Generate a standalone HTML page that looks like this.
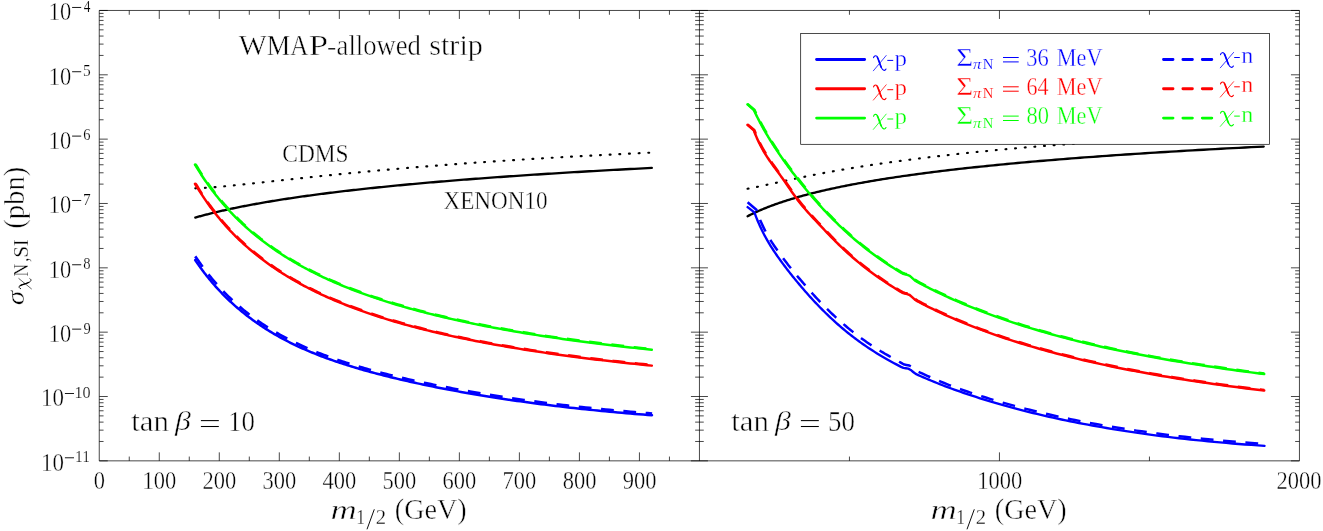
<!DOCTYPE html>
<html><head><meta charset="utf-8"><title>chart</title>
<style>html,body{margin:0;padding:0;background:#fff}body{width:1323px;height:531px;overflow:hidden;font-family:"Liberation Serif",serif}</style></head>
<body>
<svg width="1323" height="531" viewBox="0 0 1323 531" style="display:block;will-change:transform;font-family:'Liberation Serif',serif">
<rect width="1323" height="531" fill="#fff"/>
<path d="M195.30,188.32 L196.07,188.29 L196.84,188.26 L197.63,188.22 L198.41,188.19 L199.21,188.15 L200.01,188.11 L200.82,188.07 L201.63,188.03 L202.45,187.98 L203.28,187.93 L204.11,187.88 L204.95,187.83 L205.80,187.77 L206.65,187.72 L207.51,187.66 L208.38,187.60 L209.25,187.54 L210.14,187.48 L211.02,187.41 L211.92,187.34 L212.82,187.27 L213.73,187.20 L214.65,187.13 L215.58,187.06 L216.51,186.98 L217.45,186.90 L218.40,186.82 L219.35,186.74 L220.31,186.65 L221.28,186.57 L222.26,186.48 L223.25,186.39 L224.24,186.30 L225.24,186.21 L226.25,186.12 L227.27,186.02 L228.30,185.92 L229.33,185.82 L230.37,185.72 L231.42,185.62 L232.48,185.52 L233.55,185.41 L234.63,185.30 L235.71,185.20 L236.81,185.09 L237.91,184.97 L239.02,184.86 L240.14,184.74 L241.27,184.63 L242.41,184.51 L243.56,184.39 L244.72,184.27 L245.88,184.15 L247.06,184.02 L248.24,183.90 L249.44,183.77 L250.64,183.64 L251.86,183.51 L253.08,183.38 L254.31,183.25 L255.56,183.11 L256.81,182.98 L258.07,182.84 L259.35,182.70 L260.63,182.57 L261.92,182.42 L263.23,182.28 L264.54,182.14 L265.87,182.00 L267.21,181.85 L268.55,181.70 L269.91,181.55 L271.28,181.40 L272.66,181.25 L274.05,181.10 L275.45,180.95 L276.86,180.79 L278.29,180.64 L279.72,180.48 L281.17,180.32 L282.63,180.16 L284.10,180.00 L285.58,179.84 L287.08,179.68 L288.58,179.52 L290.10,179.35 L291.63,179.19 L293.18,179.02 L294.73,178.85 L296.30,178.68 L297.88,178.51 L299.47,178.34 L301.08,178.17 L302.70,178.00 L304.33,177.82 L305.98,177.65 L307.63,177.47 L309.31,177.30 L310.99,177.12 L312.69,176.94 L314.40,176.76 L316.13,176.58 L317.87,176.40 L319.62,176.22 L321.39,176.03 L323.17,175.85 L324.97,175.66 L326.78,175.48 L328.60,175.29 L330.44,175.11 L332.30,174.92 L334.17,174.73 L336.05,174.54 L337.95,174.35 L339.87,174.16 L341.80,173.97 L343.74,173.78 L345.71,173.58 L347.68,173.39 L349.68,173.19 L351.69,173.00 L353.71,172.80 L355.75,172.61 L357.81,172.41 L359.89,172.21 L361.98,172.01 L364.09,171.82 L366.21,171.62 L368.35,171.42 L370.51,171.22 L372.69,171.01 L374.88,170.81 L377.09,170.61 L379.32,170.41 L381.57,170.21 L383.84,170.00 L386.12,169.80 L388.42,169.59 L390.74,169.39 L393.08,169.18 L395.44,168.98 L397.82,168.77 L400.21,168.56 L402.63,168.36 L405.06,168.15 L407.51,167.94 L409.99,167.73 L412.48,167.53 L415.00,167.32 L417.53,167.11 L420.08,166.90 L422.66,166.69 L425.25,166.48 L427.87,166.27 L430.51,166.06 L433.17,165.85 L435.85,165.64 L438.55,165.42 L441.27,165.21 L444.01,165.00 L446.78,164.79 L449.57,164.58 L452.38,164.37 L455.22,164.15 L458.07,163.94 L460.95,163.73 L463.86,163.52 L466.78,163.30 L469.73,163.09 L472.71,162.88 L475.70,162.66 L478.72,162.45 L481.77,162.24 L484.84,162.03 L487.93,161.81 L491.05,161.60 L494.20,161.39 L497.37,161.17 L500.56,160.96 L503.79,160.75 L507.03,160.53 L510.31,160.32 L513.60,160.11 L516.93,159.90 L520.28,159.68 L523.66,159.47 L527.07,159.26 L530.50,159.05 L533.96,158.83 L537.45,158.62 L540.97,158.41 L544.52,158.20 L548.09,157.99 L551.69,157.78 L555.33,157.56 L558.99,157.35 L562.68,157.14 L566.40,156.93 L570.15,156.72 L573.93,156.51 L577.74,156.30 L581.58,156.10 L585.45,155.89 L589.35,155.68 L593.29,155.47 L597.25,155.26 L601.25,155.05 L605.28,154.85 L609.34,154.64 L613.44,154.44 L617.56,154.23 L621.72,154.02 L625.92,153.82 L630.15,153.61 L634.41,153.41 L638.70,153.21 L643.03,153.00 L647.40,152.80 L651.80,152.60" fill="none" stroke="#000" stroke-width="2.15" stroke-linecap="round" stroke-linejoin="round" stroke-dasharray="0.9 8.77"/>
<path d="M195.30,217.56 L196.07,217.35 L196.84,217.13 L197.63,216.91 L198.41,216.69 L199.21,216.47 L200.01,216.25 L200.82,216.04 L201.63,215.82 L202.45,215.60 L203.28,215.38 L204.11,215.16 L204.95,214.94 L205.80,214.72 L206.65,214.50 L207.51,214.28 L208.38,214.06 L209.25,213.84 L210.14,213.62 L211.02,213.40 L211.92,213.18 L212.82,212.95 L213.73,212.73 L214.65,212.51 L215.58,212.29 L216.51,212.07 L217.45,211.85 L218.40,211.62 L219.35,211.40 L220.31,211.18 L221.28,210.96 L222.26,210.73 L223.25,210.51 L224.24,210.29 L225.24,210.06 L226.25,209.84 L227.27,209.62 L228.30,209.39 L229.33,209.17 L230.37,208.95 L231.42,208.72 L232.48,208.50 L233.55,208.27 L234.63,208.05 L235.71,207.82 L236.81,207.60 L237.91,207.38 L239.02,207.15 L240.14,206.93 L241.27,206.70 L242.41,206.47 L243.56,206.25 L244.72,206.02 L245.88,205.80 L247.06,205.57 L248.24,205.35 L249.44,205.12 L250.64,204.89 L251.86,204.67 L253.08,204.44 L254.31,204.22 L255.56,203.99 L256.81,203.76 L258.07,203.54 L259.35,203.31 L260.63,203.08 L261.92,202.85 L263.23,202.63 L264.54,202.40 L265.87,202.17 L267.21,201.95 L268.55,201.72 L269.91,201.49 L271.28,201.26 L272.66,201.03 L274.05,200.81 L275.45,200.58 L276.86,200.35 L278.29,200.12 L279.72,199.90 L281.17,199.67 L282.63,199.44 L284.10,199.21 L285.58,198.98 L287.08,198.75 L288.58,198.52 L290.10,198.30 L291.63,198.07 L293.18,197.84 L294.73,197.61 L296.30,197.38 L297.88,197.15 L299.47,196.92 L301.08,196.69 L302.70,196.46 L304.33,196.24 L305.98,196.01 L307.63,195.78 L309.31,195.55 L310.99,195.32 L312.69,195.09 L314.40,194.86 L316.13,194.63 L317.87,194.40 L319.62,194.17 L321.39,193.94 L323.17,193.71 L324.97,193.48 L326.78,193.25 L328.60,193.02 L330.44,192.79 L332.30,192.56 L334.17,192.33 L336.05,192.10 L337.95,191.87 L339.87,191.64 L341.80,191.41 L343.74,191.18 L345.71,190.95 L347.68,190.72 L349.68,190.49 L351.69,190.26 L353.71,190.03 L355.75,189.80 L357.81,189.57 L359.89,189.35 L361.98,189.12 L364.09,188.89 L366.21,188.66 L368.35,188.43 L370.51,188.20 L372.69,187.97 L374.88,187.74 L377.09,187.51 L379.32,187.28 L381.57,187.05 L383.84,186.82 L386.12,186.59 L388.42,186.36 L390.74,186.13 L393.08,185.90 L395.44,185.67 L397.82,185.44 L400.21,185.21 L402.63,184.98 L405.06,184.75 L407.51,184.52 L409.99,184.29 L412.48,184.06 L415.00,183.83 L417.53,183.60 L420.08,183.37 L422.66,183.14 L425.25,182.91 L427.87,182.68 L430.51,182.45 L433.17,182.22 L435.85,181.99 L438.55,181.76 L441.27,181.53 L444.01,181.30 L446.78,181.07 L449.57,180.85 L452.38,180.62 L455.22,180.39 L458.07,180.16 L460.95,179.93 L463.86,179.70 L466.78,179.47 L469.73,179.24 L472.71,179.01 L475.70,178.79 L478.72,178.56 L481.77,178.33 L484.84,178.10 L487.93,177.87 L491.05,177.64 L494.20,177.42 L497.37,177.19 L500.56,176.96 L503.79,176.73 L507.03,176.50 L510.31,176.28 L513.60,176.05 L516.93,175.82 L520.28,175.59 L523.66,175.36 L527.07,175.14 L530.50,174.91 L533.96,174.68 L537.45,174.46 L540.97,174.23 L544.52,174.00 L548.09,173.78 L551.69,173.55 L555.33,173.32 L558.99,173.10 L562.68,172.87 L566.40,172.64 L570.15,172.42 L573.93,172.19 L577.74,171.96 L581.58,171.74 L585.45,171.51 L589.35,171.29 L593.29,171.06 L597.25,170.84 L601.25,170.61 L605.28,170.39 L609.34,170.16 L613.44,169.94 L617.56,169.71 L621.72,169.49 L625.92,169.26 L630.15,169.04 L634.41,168.81 L638.70,168.59 L643.03,168.36 L647.40,168.14 L651.80,167.92" fill="none" stroke="#000" stroke-width="2.35" stroke-linecap="round" stroke-linejoin="round" />
<path d="M747.60,188.71 L748.14,188.62 L748.69,188.52 L749.25,188.42 L749.81,188.32 L750.38,188.22 L750.96,188.11 L751.54,188.00 L752.13,187.89 L752.72,187.78 L753.32,187.66 L753.93,187.54 L754.55,187.42 L755.17,187.29 L755.80,187.17 L756.44,187.04 L757.08,186.91 L757.73,186.77 L758.39,186.64 L759.05,186.50 L759.73,186.36 L760.41,186.21 L761.10,186.07 L761.79,185.92 L762.50,185.77 L763.21,185.62 L763.93,185.46 L764.66,185.31 L765.40,185.15 L766.14,184.98 L766.89,184.82 L767.66,184.65 L768.43,184.49 L769.21,184.32 L769.99,184.14 L770.79,183.97 L771.60,183.79 L772.41,183.61 L773.24,183.43 L774.07,183.25 L774.91,183.06 L775.77,182.88 L776.63,182.69 L777.50,182.50 L778.38,182.30 L779.27,182.11 L780.18,181.91 L781.09,181.71 L782.01,181.51 L782.94,181.31 L783.89,181.10 L784.84,180.90 L785.81,180.69 L786.78,180.48 L787.77,180.27 L788.77,180.05 L789.78,179.84 L790.80,179.62 L791.83,179.40 L792.87,179.18 L793.93,178.95 L795.00,178.73 L796.08,178.50 L797.17,178.28 L798.27,178.05 L799.39,177.82 L800.52,177.58 L801.66,177.35 L802.81,177.11 L803.98,176.87 L805.16,176.63 L806.36,176.39 L807.57,176.15 L808.79,175.91 L810.02,175.66 L811.27,175.42 L812.54,175.17 L813.82,174.92 L815.11,174.67 L816.41,174.41 L817.74,174.16 L819.07,173.90 L820.43,173.65 L821.79,173.39 L823.18,173.13 L824.57,172.87 L825.99,172.61 L827.42,172.34 L828.86,172.08 L830.33,171.81 L831.81,171.54 L833.30,171.28 L834.81,171.01 L836.34,170.73 L837.89,170.46 L839.46,170.19 L841.04,169.91 L842.64,169.64 L844.26,169.36 L845.89,169.08 L847.55,168.81 L849.22,168.53 L850.92,168.24 L852.63,167.96 L854.36,167.68 L856.11,167.39 L857.88,167.11 L859.67,166.82 L861.48,166.54 L863.31,166.25 L865.16,165.96 L867.04,165.67 L868.93,165.38 L870.85,165.09 L872.78,164.79 L874.74,164.50 L876.73,164.21 L878.73,163.91 L880.76,163.62 L882.80,163.32 L884.88,163.02 L886.97,162.72 L889.09,162.42 L891.24,162.12 L893.40,161.82 L895.60,161.52 L897.81,161.22 L900.06,160.92 L902.32,160.62 L904.62,160.31 L906.94,160.01 L909.28,159.70 L911.65,159.40 L914.05,159.09 L916.48,158.79 L918.93,158.48 L921.41,158.17 L923.92,157.86 L926.46,157.55 L929.02,157.24 L931.62,156.94 L934.24,156.63 L936.90,156.31 L939.58,156.00 L942.29,155.69 L945.04,155.38 L947.82,155.07 L950.62,154.76 L953.46,154.44 L956.33,154.13 L959.24,153.82 L962.17,153.51 L965.14,153.19 L968.15,152.88 L971.18,152.56 L974.26,152.25 L977.36,151.93 L980.50,151.62 L983.68,151.30 L986.89,150.99 L990.14,150.67 L993.43,150.36 L996.75,150.04 L1000.11,149.73 L1003.51,149.41 L1006.95,149.10 L1010.42,148.78 L1013.94,148.47 L1017.50,148.15 L1021.09,147.83 L1024.73,147.52 L1028.40,147.20 L1032.12,146.89 L1035.88,146.57 L1039.69,146.26 L1043.53,145.94 L1047.42,145.63 L1051.36,145.31 L1055.33,145.00 L1059.36,144.68 L1063.43,144.37 L1067.54,144.05 L1071.70,143.74 L1075.91,143.43 L1080.16,143.11 L1084.47,142.80 L1088.82,142.49 L1093.22,142.17 L1097.67,141.86 L1102.18,141.55 L1106.73,141.24 L1111.33,140.93 L1115.99,140.61 L1120.70,140.30 L1125.46,139.99 L1130.28,139.68 L1135.15,139.38 L1140.07,139.07 L1145.05,138.76 L1150.09,138.45 L1155.18,138.14 L1160.34,137.84 L1165.55,137.53 L1170.82,137.22 L1176.14,136.92 L1181.53,136.61 L1186.98,136.31 L1192.49,136.01 L1198.07,135.70 L1203.70,135.40 L1209.41,135.10 L1215.17,134.80 L1221.00,134.50 L1226.90,134.20 L1232.86,133.90 L1238.89,133.60 L1244.99,133.31 L1251.16,133.01 L1257.39,132.72 L1263.70,132.42" fill="none" stroke="#000" stroke-width="2.15" stroke-linecap="round" stroke-linejoin="round" stroke-dasharray="0.9 8.77"/>
<path d="M747.60,216.21 L748.14,215.92 L748.69,215.64 L749.25,215.36 L749.81,215.08 L750.38,214.79 L750.96,214.51 L751.54,214.22 L752.13,213.94 L752.72,213.65 L753.32,213.36 L753.93,213.08 L754.55,212.79 L755.17,212.50 L755.80,212.21 L756.44,211.92 L757.08,211.63 L757.73,211.34 L758.39,211.04 L759.05,210.75 L759.73,210.46 L760.41,210.16 L761.10,209.87 L761.79,209.57 L762.50,209.28 L763.21,208.98 L763.93,208.68 L764.66,208.38 L765.40,208.09 L766.14,207.79 L766.89,207.49 L767.66,207.19 L768.43,206.89 L769.21,206.59 L769.99,206.28 L770.79,205.98 L771.60,205.68 L772.41,205.38 L773.24,205.07 L774.07,204.77 L774.91,204.46 L775.77,204.16 L776.63,203.85 L777.50,203.55 L778.38,203.24 L779.27,202.93 L780.18,202.62 L781.09,202.31 L782.01,202.01 L782.94,201.70 L783.89,201.39 L784.84,201.08 L785.81,200.77 L786.78,200.45 L787.77,200.14 L788.77,199.83 L789.78,199.52 L790.80,199.21 L791.83,198.89 L792.87,198.58 L793.93,198.26 L795.00,197.95 L796.08,197.64 L797.17,197.32 L798.27,197.00 L799.39,196.69 L800.52,196.37 L801.66,196.05 L802.81,195.74 L803.98,195.42 L805.16,195.10 L806.36,194.78 L807.57,194.46 L808.79,194.15 L810.02,193.83 L811.27,193.51 L812.54,193.19 L813.82,192.87 L815.11,192.55 L816.41,192.22 L817.74,191.90 L819.07,191.58 L820.43,191.26 L821.79,190.94 L823.18,190.62 L824.57,190.29 L825.99,189.97 L827.42,189.65 L828.86,189.32 L830.33,189.00 L831.81,188.67 L833.30,188.35 L834.81,188.03 L836.34,187.70 L837.89,187.38 L839.46,187.05 L841.04,186.72 L842.64,186.40 L844.26,186.07 L845.89,185.75 L847.55,185.42 L849.22,185.09 L850.92,184.77 L852.63,184.44 L854.36,184.11 L856.11,183.78 L857.88,183.46 L859.67,183.13 L861.48,182.80 L863.31,182.47 L865.16,182.14 L867.04,181.82 L868.93,181.49 L870.85,181.16 L872.78,180.83 L874.74,180.50 L876.73,180.17 L878.73,179.84 L880.76,179.51 L882.80,179.18 L884.88,178.85 L886.97,178.52 L889.09,178.20 L891.24,177.87 L893.40,177.54 L895.60,177.21 L897.81,176.88 L900.06,176.55 L902.32,176.21 L904.62,175.88 L906.94,175.55 L909.28,175.22 L911.65,174.89 L914.05,174.56 L916.48,174.23 L918.93,173.90 L921.41,173.57 L923.92,173.24 L926.46,172.91 L929.02,172.58 L931.62,172.25 L934.24,171.92 L936.90,171.59 L939.58,171.26 L942.29,170.93 L945.04,170.60 L947.82,170.27 L950.62,169.94 L953.46,169.60 L956.33,169.27 L959.24,168.94 L962.17,168.61 L965.14,168.28 L968.15,167.95 L971.18,167.62 L974.26,167.29 L977.36,166.96 L980.50,166.63 L983.68,166.30 L986.89,165.97 L990.14,165.64 L993.43,165.31 L996.75,164.99 L1000.11,164.66 L1003.51,164.33 L1006.95,164.00 L1010.42,163.67 L1013.94,163.34 L1017.50,163.01 L1021.09,162.68 L1024.73,162.36 L1028.40,162.03 L1032.12,161.70 L1035.88,161.37 L1039.69,161.04 L1043.53,160.72 L1047.42,160.39 L1051.36,160.06 L1055.33,159.73 L1059.36,159.41 L1063.43,159.08 L1067.54,158.76 L1071.70,158.43 L1075.91,158.10 L1080.16,157.78 L1084.47,157.45 L1088.82,157.13 L1093.22,156.80 L1097.67,156.48 L1102.18,156.15 L1106.73,155.83 L1111.33,155.50 L1115.99,155.18 L1120.70,154.86 L1125.46,154.53 L1130.28,154.21 L1135.15,153.89 L1140.07,153.57 L1145.05,153.24 L1150.09,152.92 L1155.18,152.60 L1160.34,152.28 L1165.55,151.96 L1170.82,151.64 L1176.14,151.32 L1181.53,151.00 L1186.98,150.68 L1192.49,150.36 L1198.07,150.04 L1203.70,149.72 L1209.41,149.41 L1215.17,149.09 L1221.00,148.77 L1226.90,148.45 L1232.86,148.14 L1238.89,147.82 L1244.99,147.50 L1251.16,147.19 L1257.39,146.87 L1263.70,146.56" fill="none" stroke="#000" stroke-width="2.35" stroke-linecap="round" stroke-linejoin="round" />
<path d="M195.20,260.08 L195.97,261.22 L196.74,262.35 L197.53,263.49 L198.31,264.62 L199.11,265.74 L199.91,266.86 L200.72,267.98 L201.53,269.09 L202.35,270.20 L203.18,271.30 L204.01,272.40 L204.85,273.50 L205.70,274.59 L206.55,275.67 L207.41,276.76 L208.28,277.84 L209.15,278.91 L210.03,279.98 L210.92,281.05 L211.82,282.11 L212.72,283.17 L213.63,284.22 L214.55,285.27 L215.47,286.31 L216.40,287.36 L217.34,288.39 L218.29,289.42 L219.25,290.45 L220.21,291.48 L221.18,292.49 L222.16,293.51 L223.14,294.52 L224.14,295.53 L225.14,296.53 L226.15,297.53 L227.17,298.52 L228.19,299.51 L229.23,300.49 L230.27,301.47 L231.32,302.45 L232.38,303.42 L233.45,304.39 L234.53,305.35 L235.61,306.31 L236.70,307.27 L237.81,308.22 L238.92,309.16 L240.04,310.10 L241.17,311.04 L242.31,311.97 L243.46,312.90 L244.61,313.82 L245.78,314.74 L246.95,315.65 L248.14,316.56 L249.33,317.47 L250.54,318.37 L251.75,319.27 L252.98,320.16 L254.21,321.05 L255.45,321.93 L256.71,322.81 L257.97,323.68 L259.25,324.55 L260.53,325.41 L261.82,326.27 L263.13,327.13 L264.44,327.98 L265.77,328.83 L267.11,329.67 L268.45,330.51 L269.81,331.34 L271.18,332.17 L272.56,332.99 L273.95,333.81 L275.35,334.63 L276.77,335.44 L278.19,336.24 L279.63,337.04 L281.08,337.84 L282.53,338.63 L284.01,339.41 L285.49,340.20 L286.98,340.97 L288.49,341.75 L290.01,342.51 L291.54,343.28 L293.08,344.04 L294.64,344.79 L296.21,345.54 L297.79,346.28 L299.38,347.02 L300.99,347.76 L302.61,348.49 L304.24,349.21 L305.89,349.93 L307.55,350.65 L309.22,351.36 L310.91,352.07 L312.60,352.77 L314.32,353.46 L316.04,354.16 L317.78,354.84 L319.54,355.53 L321.31,356.21 L323.09,356.88 L324.89,357.55 L326.70,358.22 L328.53,358.88 L330.37,359.54 L332.22,360.19 L334.09,360.84 L335.98,361.49 L337.88,362.13 L339.79,362.77 L341.73,363.40 L343.67,364.04 L345.64,364.66 L347.61,365.29 L349.61,365.91 L351.62,366.53 L353.65,367.15 L355.69,367.76 L357.75,368.37 L359.82,368.97 L361.92,369.58 L364.02,370.18 L366.15,370.78 L368.29,371.37 L370.45,371.97 L372.63,372.56 L374.83,373.15 L377.04,373.73 L379.27,374.32 L381.52,374.90 L383.79,375.48 L386.07,376.05 L388.38,376.63 L390.70,377.20 L393.04,377.77 L395.40,378.33 L397.78,378.90 L400.17,379.46 L402.59,380.02 L405.03,380.58 L407.48,381.14 L409.96,381.70 L412.45,382.25 L414.97,382.80 L417.50,383.35 L420.06,383.90 L422.64,384.44 L425.23,384.99 L427.85,385.53 L430.49,386.07 L433.15,386.61 L435.83,387.15 L438.54,387.68 L441.26,388.22 L444.01,388.75 L446.78,389.28 L449.57,389.81 L452.38,390.34 L455.22,390.86 L458.08,391.39 L460.96,391.91 L463.87,392.43 L466.80,392.95 L469.75,393.46 L472.72,393.98 L475.72,394.49 L478.75,395.00 L481.80,395.50 L484.87,396.01 L487.97,396.51 L491.09,397.01 L494.24,397.51 L497.41,398.00 L500.61,398.49 L503.83,398.98 L507.08,399.47 L510.36,399.95 L513.66,400.43 L516.99,400.91 L520.34,401.38 L523.73,401.85 L527.14,402.32 L530.57,402.78 L534.04,403.24 L537.53,403.70 L541.05,404.16 L544.60,404.61 L548.18,405.05 L551.78,405.50 L555.42,405.94 L559.08,406.37 L562.78,406.81 L566.50,407.24 L570.26,407.66 L574.04,408.08 L577.85,408.50 L581.70,408.91 L585.58,409.32 L589.48,409.73 L593.42,410.13 L597.39,410.52 L601.39,410.92 L605.43,411.30 L609.49,411.69 L613.59,412.07 L617.72,412.44 L621.89,412.81 L626.09,413.17 L630.32,413.53 L634.59,413.89 L638.89,414.24 L643.22,414.59 L647.59,414.93 L652.00,415.26" fill="none" stroke="#0000ff" stroke-width="2.5" stroke-linecap="round" stroke-linejoin="round"/>
<path d="M195.20,256.40 L197.79,259.98 L198.57,261.10 L199.34,262.23 L200.13,263.34 L200.92,264.45 L201.72,265.56 L202.52,266.67 L203.33,267.77 L204.14,268.86 L204.97,269.95 L205.80,271.04 L206.63,272.12 L207.47,273.20 L208.32,274.27 L209.18,275.34 L210.04,276.41 L210.91,277.47 L211.79,278.53 L212.67,279.58 L213.56,280.63 L214.46,281.68 L215.36,282.72 L216.27,283.75 L217.19,284.78 L218.12,285.81 L219.05,286.83 L219.99,287.85 L220.94,288.87 L221.90,289.88 L222.86,290.88 L223.83,291.88 L224.81,292.88 L225.80,293.87 L226.80,294.86 L227.79,295.85 L228.80,296.84 L229.81,297.82 L230.83,298.80 L231.86,299.77 L232.90,300.74 L233.95,301.70 L235.00,302.66 L236.07,303.62 L237.14,304.57 L238.22,305.51 L239.31,306.46 L240.41,307.40 L241.52,308.33 L242.63,309.26 L243.76,310.18 L244.89,311.11 L246.04,312.02 L247.19,312.93 L248.35,313.84 L249.53,314.75 L250.71,315.65 L251.90,316.54 L253.10,317.43 L254.31,318.32 L255.53,319.20 L256.76,320.08 L258.00,320.95 L259.25,321.82 L260.51,322.68 L261.78,323.54 L263.06,324.40 L264.35,325.25 L265.65,326.10 L266.97,326.94 L268.29,327.78 L269.62,328.61 L270.97,329.44 L272.32,330.26 L273.69,331.08 L275.07,331.90 L276.46,332.71 L277.86,333.52 L279.27,334.32 L280.69,335.12 L282.13,335.91 L283.57,336.70 L285.03,337.48 L286.50,338.26 L287.98,339.04 L289.48,339.81 L290.98,340.58 L292.50,341.34 L294.03,342.09 L295.57,342.85 L297.13,343.59 L298.70,344.34 L300.28,345.08 L301.87,345.81 L303.48,346.54 L305.10,347.27 L306.73,347.99 L308.38,348.70 L310.04,349.41 L311.72,350.12 L313.40,350.82 L315.10,351.52 L316.82,352.21 L318.55,352.90 L320.29,353.58 L322.05,354.26 L323.82,354.94 L325.61,355.61 L327.41,356.28 L329.22,356.94 L331.05,357.60 L332.90,358.26 L334.76,358.91 L336.64,359.56 L338.53,360.20 L340.43,360.84 L342.35,361.48 L344.29,362.12 L346.25,362.75 L348.22,363.38 L350.20,364.00 L352.20,364.62 L354.22,365.23 L356.26,365.85 L358.31,366.46 L360.38,367.06 L362.46,367.67 L364.57,368.27 L366.69,368.86 L368.82,369.46 L370.98,370.05 L373.15,370.64 L375.34,371.23 L377.54,371.82 L379.77,372.40 L382.01,372.98 L384.27,373.56 L386.55,374.14 L388.85,374.72 L391.17,375.29 L393.50,375.86 L395.85,376.43 L398.23,376.99 L400.62,377.56 L403.03,378.12 L405.46,378.68 L407.91,379.24 L410.38,379.79 L412.87,380.35 L415.38,380.90 L417.91,381.45 L420.46,382.00 L423.04,382.55 L425.63,383.09 L428.24,383.64 L430.88,384.18 L433.53,384.72 L436.21,385.26 L438.91,385.79 L441.63,386.33 L444.37,386.86 L447.14,387.40 L449.92,387.93 L452.73,388.46 L455.57,388.98 L458.42,389.51 L461.30,390.03 L464.20,390.55 L467.12,391.07 L470.07,391.59 L473.04,392.11 L476.04,392.62 L479.06,393.13 L482.10,393.64 L485.17,394.14 L488.27,394.65 L491.38,395.15 L494.53,395.65 L497.70,396.14 L500.89,396.64 L504.11,397.13 L507.36,397.62 L510.63,398.10 L513.93,398.58 L517.25,399.06 L520.60,399.54 L523.98,400.01 L527.39,400.48 L530.82,400.95 L534.28,401.41 L537.77,401.87 L541.29,402.33 L544.83,402.78 L548.40,403.23 L552.01,403.68 L555.64,404.12 L559.30,404.56 L562.99,405.00 L566.71,405.43 L570.46,405.86 L574.24,406.28 L578.05,406.70 L581.89,407.11 L585.76,407.53 L589.67,407.93 L593.60,408.34 L597.57,408.74 L601.57,409.13 L605.60,409.52 L609.66,409.91 L613.75,410.29 L617.88,410.67 L622.04,411.04 L626.24,411.41 L630.47,411.77 L634.73,412.13 L639.03,412.48 L643.36,412.83 L647.73,413.18 L652.13,413.52" fill="none" stroke="#0000ff" stroke-width="2.7" stroke-dasharray="12.8 9.6" stroke-linecap="butt" stroke-linejoin="round"/>
<path d="M195.00,183.75 L195.77,185.04 L196.54,186.32 L197.32,187.60 L198.11,188.88 L198.90,190.15 L199.70,191.41 L200.51,192.68 L201.32,193.93 L202.14,195.18 L202.97,196.43 L203.80,197.67 L204.64,198.91 L205.49,200.14 L206.34,201.36 L207.20,202.59 L208.06,203.80 L208.94,205.02 L209.82,206.22 L210.71,207.43 L211.60,208.63 L212.50,209.82 L213.41,211.01 L214.33,212.19 L215.25,213.37 L216.18,214.55 L217.12,215.72 L218.07,216.89 L219.02,218.05 L219.98,219.20 L220.95,220.36 L221.93,221.50 L222.92,222.65 L223.91,223.78 L224.91,224.92 L225.92,226.05 L226.94,227.17 L227.96,228.29 L228.99,229.41 L230.04,230.52 L231.09,231.62 L232.15,232.73 L233.21,233.82 L234.29,234.92 L235.37,236.01 L236.47,237.09 L237.57,238.17 L238.68,239.24 L239.80,240.31 L240.93,241.38 L242.07,242.44 L243.21,243.50 L244.37,244.55 L245.53,245.60 L246.71,246.64 L247.89,247.68 L249.09,248.72 L250.29,249.75 L251.50,250.78 L252.73,251.80 L253.96,252.82 L255.20,253.83 L256.46,254.84 L257.72,255.84 L258.99,256.85 L260.28,257.84 L261.57,258.83 L262.87,259.82 L264.19,260.81 L265.51,261.78 L266.85,262.76 L268.19,263.73 L269.55,264.70 L270.92,265.66 L272.30,266.62 L273.69,267.57 L275.09,268.52 L276.50,269.47 L277.93,270.41 L279.36,271.34 L280.81,272.28 L282.27,273.21 L283.74,274.13 L285.22,275.05 L286.72,275.97 L288.22,276.88 L289.74,277.79 L291.27,278.69 L292.81,279.59 L294.37,280.49 L295.94,281.38 L297.52,282.27 L299.11,283.15 L300.72,284.03 L302.34,284.91 L303.97,285.78 L305.61,286.65 L307.27,287.51 L308.94,288.37 L310.63,289.23 L312.33,290.08 L314.04,290.92 L315.77,291.77 L317.51,292.61 L319.26,293.44 L321.03,294.28 L322.81,295.10 L324.61,295.93 L326.42,296.75 L328.24,297.56 L330.08,298.38 L331.94,299.19 L333.81,299.99 L335.69,300.79 L337.59,301.59 L339.51,302.38 L341.44,303.17 L343.39,303.96 L345.35,304.74 L347.33,305.52 L349.32,306.29 L351.33,307.06 L353.36,307.83 L355.40,308.59 L357.46,309.35 L359.54,310.10 L361.63,310.85 L363.74,311.60 L365.86,312.35 L368.01,313.09 L370.17,313.82 L372.34,314.56 L374.54,315.28 L376.75,316.01 L378.98,316.73 L381.23,317.45 L383.50,318.16 L385.78,318.88 L388.09,319.58 L390.41,320.29 L392.75,320.99 L395.11,321.68 L397.49,322.38 L399.88,323.06 L402.30,323.75 L404.74,324.43 L407.19,325.11 L409.67,325.79 L412.16,326.46 L414.68,327.13 L417.22,327.79 L419.77,328.45 L422.35,329.11 L424.95,329.76 L427.56,330.41 L430.20,331.06 L432.87,331.70 L435.55,332.34 L438.25,332.98 L440.98,333.61 L443.72,334.24 L446.49,334.87 L449.29,335.49 L452.10,336.11 L454.94,336.73 L457.80,337.34 L460.68,337.95 L463.58,338.55 L466.51,339.15 L469.47,339.75 L472.44,340.35 L475.44,340.94 L478.47,341.53 L481.52,342.12 L484.59,342.70 L487.69,343.28 L490.81,343.85 L493.96,344.43 L497.14,345.00 L500.33,345.56 L503.56,346.13 L506.81,346.68 L510.09,347.24 L513.39,347.79 L516.72,348.34 L520.08,348.89 L523.46,349.43 L526.87,349.97 L530.31,350.51 L533.78,351.05 L537.27,351.58 L540.79,352.10 L544.34,352.63 L547.92,353.15 L551.53,353.67 L555.17,354.18 L558.84,354.70 L562.53,355.20 L566.26,355.71 L570.01,356.21 L573.80,356.71 L577.61,357.21 L581.46,357.70 L585.34,358.19 L589.25,358.68 L593.19,359.16 L597.16,359.65 L601.16,360.12 L605.20,360.60 L609.27,361.07 L613.37,361.54 L617.50,362.01 L621.67,362.47 L625.87,362.93 L630.11,363.39 L634.38,363.84 L638.68,364.30 L643.02,364.74 L647.39,365.19 L651.80,365.63" fill="none" stroke="#ff0000" stroke-width="2.5" stroke-linecap="round" stroke-linejoin="round"/>
<path d="M195.00,183.47 L196.24,184.76 L197.01,186.04 L197.79,187.32 L198.58,188.59 L199.37,189.86 L200.17,191.12 L200.97,192.38 L201.78,193.63 L202.60,194.88 L203.43,196.12 L204.26,197.36 L205.09,198.60 L205.94,199.82 L206.79,201.05 L207.65,202.27 L208.51,203.48 L209.38,204.69 L210.26,205.90 L211.15,207.10 L212.04,208.30 L212.94,209.49 L213.85,210.67 L214.76,211.86 L215.68,213.03 L216.61,214.21 L217.55,215.37 L218.49,216.54 L219.45,217.70 L220.41,218.85 L221.37,220.00 L222.35,221.15 L223.33,222.29 L224.32,223.42 L225.32,224.55 L226.33,225.68 L227.34,226.80 L228.37,227.92 L229.40,229.03 L230.44,230.14 L231.48,231.24 L232.54,232.34 L233.61,233.44 L234.68,234.53 L235.76,235.62 L236.85,236.70 L237.95,237.77 L239.06,238.85 L240.18,239.92 L241.30,240.98 L242.44,242.04 L243.58,243.09 L244.74,244.14 L245.90,245.19 L247.07,246.23 L248.26,247.27 L249.45,248.30 L250.65,249.33 L251.86,250.36 L253.08,251.38 L254.31,252.39 L255.55,253.40 L256.80,254.41 L258.06,255.41 L259.33,256.41 L260.61,257.41 L261.90,258.40 L263.20,259.38 L264.52,260.36 L265.84,261.34 L267.17,262.31 L268.51,263.28 L269.87,264.25 L271.23,265.21 L272.61,266.16 L274.00,267.12 L275.40,268.06 L276.81,269.01 L278.23,269.95 L279.66,270.88 L281.11,271.81 L282.56,272.74 L284.03,273.66 L285.51,274.58 L287.00,275.50 L288.51,276.41 L290.02,277.32 L291.55,278.22 L293.09,279.12 L294.64,280.01 L296.21,280.90 L297.79,281.79 L299.38,282.67 L300.98,283.55 L302.60,284.42 L304.23,285.29 L305.87,286.16 L307.52,287.02 L309.19,287.88 L310.88,288.73 L312.57,289.58 L314.28,290.43 L316.01,291.27 L317.74,292.11 L319.50,292.95 L321.26,293.78 L323.04,294.60 L324.83,295.43 L326.64,296.25 L328.47,297.06 L330.31,297.87 L332.16,298.68 L334.03,299.48 L335.91,300.28 L337.81,301.08 L339.72,301.87 L341.65,302.66 L343.59,303.45 L345.55,304.23 L347.53,305.00 L349.52,305.78 L351.53,306.55 L353.55,307.31 L355.59,308.07 L357.65,308.83 L359.72,309.59 L361.81,310.34 L363.92,311.08 L366.04,311.83 L368.18,312.57 L370.34,313.30 L372.52,314.03 L374.71,314.76 L376.92,315.49 L379.15,316.21 L381.40,316.93 L383.66,317.64 L385.95,318.35 L388.25,319.06 L390.57,319.76 L392.91,320.46 L395.26,321.16 L397.64,321.85 L400.04,322.54 L402.45,323.22 L404.88,323.90 L407.34,324.58 L409.81,325.25 L412.31,325.93 L414.82,326.59 L417.35,327.26 L419.91,327.92 L422.48,328.57 L425.08,329.23 L427.70,329.88 L430.33,330.52 L432.99,331.17 L435.67,331.81 L438.38,332.44 L441.10,333.08 L443.85,333.70 L446.61,334.33 L449.40,334.95 L452.22,335.57 L455.05,336.19 L457.91,336.80 L460.79,337.41 L463.70,338.01 L466.62,338.62 L469.58,339.21 L472.55,339.81 L475.55,340.40 L478.57,340.99 L481.62,341.58 L484.69,342.16 L487.79,342.74 L490.91,343.31 L494.06,343.89 L497.23,344.45 L500.43,345.02 L503.65,345.58 L506.90,346.14 L510.18,346.70 L513.48,347.25 L516.81,347.80 L520.17,348.35 L523.55,348.89 L526.96,349.43 L530.40,349.97 L533.86,350.50 L537.35,351.03 L540.88,351.56 L544.42,352.08 L548.00,352.61 L551.61,353.12 L555.25,353.64 L558.91,354.15 L562.61,354.66 L566.33,355.16 L570.08,355.67 L573.87,356.17 L577.68,356.66 L581.53,357.16 L585.41,357.65 L589.31,358.13 L593.25,358.62 L597.22,359.10 L601.23,359.58 L605.26,360.05 L609.33,360.53 L613.43,361.00 L617.57,361.46 L621.73,361.92 L625.93,362.39 L630.17,362.84 L634.44,363.30 L638.74,363.75 L643.07,364.20 L647.45,364.64 L651.85,365.09" fill="none" stroke="#ff0000" stroke-width="2.7" stroke-dasharray="12.8 9.6" stroke-linecap="butt" stroke-linejoin="round"/>
<path d="M195.00,164.50 L195.77,165.79 L196.54,167.08 L197.32,168.36 L198.11,169.64 L198.90,170.91 L199.70,172.18 L200.51,173.44 L201.32,174.70 L202.14,175.96 L202.97,177.21 L203.80,178.45 L204.64,179.70 L205.49,180.93 L206.34,182.16 L207.20,183.39 L208.06,184.61 L208.94,185.83 L209.82,187.05 L210.71,188.26 L211.60,189.46 L212.50,190.66 L213.41,191.86 L214.33,193.05 L215.25,194.23 L216.18,195.42 L217.12,196.59 L218.07,197.77 L219.02,198.93 L219.98,200.10 L220.95,201.26 L221.93,202.41 L222.92,203.57 L223.91,204.71 L224.91,205.85 L225.92,206.99 L226.94,208.13 L227.96,209.25 L228.99,210.38 L230.04,211.50 L231.09,212.62 L232.15,213.73 L233.21,214.83 L234.29,215.94 L235.37,217.04 L236.47,218.13 L237.57,219.22 L238.68,220.31 L239.80,221.39 L240.93,222.46 L242.07,223.54 L243.21,224.60 L244.37,225.67 L245.53,226.73 L246.71,227.78 L247.89,228.84 L249.09,229.88 L250.29,230.93 L251.50,231.96 L252.73,233.00 L253.96,234.03 L255.20,235.06 L256.46,236.08 L257.72,237.10 L258.99,238.11 L260.28,239.12 L261.57,240.12 L262.87,241.13 L264.19,242.12 L265.51,243.12 L266.85,244.10 L268.19,245.09 L269.55,246.07 L270.92,247.05 L272.30,248.02 L273.69,248.99 L275.09,249.95 L276.50,250.91 L277.93,251.87 L279.36,252.82 L280.81,253.77 L282.27,254.71 L283.74,255.65 L285.22,256.59 L286.72,257.52 L288.22,258.45 L289.74,259.37 L291.27,260.29 L292.81,261.20 L294.37,262.12 L295.94,263.02 L297.52,263.93 L299.11,264.83 L300.72,265.72 L302.34,266.62 L303.97,267.50 L305.61,268.39 L307.27,269.27 L308.94,270.15 L310.63,271.02 L312.33,271.89 L314.04,272.75 L315.77,273.61 L317.51,274.47 L319.26,275.32 L321.03,276.17 L322.81,277.02 L324.61,277.86 L326.42,278.70 L328.24,279.53 L330.08,280.36 L331.94,281.19 L333.81,282.01 L335.69,282.83 L337.59,283.64 L339.51,284.45 L341.44,285.26 L343.39,286.07 L345.35,286.87 L347.33,287.66 L349.32,288.45 L351.33,289.24 L353.36,290.03 L355.40,290.81 L357.46,291.59 L359.54,292.36 L361.63,293.13 L363.74,293.90 L365.86,294.66 L368.01,295.42 L370.17,296.18 L372.34,296.93 L374.54,297.68 L376.75,298.42 L378.98,299.16 L381.23,299.90 L383.50,300.63 L385.78,301.36 L388.09,302.09 L390.41,302.81 L392.75,303.53 L395.11,304.25 L397.49,304.96 L399.88,305.67 L402.30,306.38 L404.74,307.08 L407.19,307.78 L409.67,308.47 L412.16,309.16 L414.68,309.85 L417.22,310.53 L419.77,311.21 L422.35,311.89 L424.95,312.56 L427.56,313.24 L430.20,313.90 L432.87,314.57 L435.55,315.23 L438.25,315.88 L440.98,316.53 L443.72,317.18 L446.49,317.83 L449.29,318.47 L452.10,319.11 L454.94,319.75 L457.80,320.38 L460.68,321.01 L463.58,321.64 L466.51,322.26 L469.47,322.88 L472.44,323.49 L475.44,324.11 L478.47,324.72 L481.52,325.32 L484.59,325.93 L487.69,326.52 L490.81,327.12 L493.96,327.71 L497.14,328.30 L500.33,328.89 L503.56,329.47 L506.81,330.05 L510.09,330.63 L513.39,331.20 L516.72,331.77 L520.08,332.34 L523.46,332.90 L526.87,333.46 L530.31,334.02 L533.78,334.57 L537.27,335.12 L540.79,335.67 L544.34,336.22 L547.92,336.76 L551.53,337.30 L555.17,337.83 L558.84,338.36 L562.53,338.89 L566.26,339.42 L570.01,339.94 L573.80,340.46 L577.61,340.97 L581.46,341.49 L585.34,342.00 L589.25,342.50 L593.19,343.01 L597.16,343.51 L601.16,344.01 L605.20,344.50 L609.27,344.99 L613.37,345.48 L617.50,345.97 L621.67,346.45 L625.87,346.93 L630.11,347.41 L634.38,347.88 L638.68,348.35 L643.02,348.82 L647.39,349.29 L651.80,349.75" fill="none" stroke="#00ff00" stroke-width="2.5" stroke-linecap="round" stroke-linejoin="round"/>
<path d="M195.00,164.22 L196.24,165.51 L197.01,166.79 L197.79,168.07 L198.58,169.35 L199.37,170.62 L200.17,171.89 L200.97,173.15 L201.78,174.40 L202.60,175.66 L203.43,176.90 L204.26,178.15 L205.09,179.39 L205.94,180.62 L206.79,181.85 L207.65,183.07 L208.51,184.29 L209.38,185.51 L210.26,186.72 L211.15,187.93 L212.04,189.13 L212.94,190.33 L213.85,191.52 L214.76,192.71 L215.69,193.89 L216.61,195.07 L217.55,196.25 L218.50,197.42 L219.45,198.59 L220.41,199.75 L221.37,200.91 L222.35,202.06 L223.33,203.21 L224.32,204.35 L225.32,205.49 L226.33,206.63 L227.34,207.76 L228.37,208.88 L229.40,210.01 L230.44,211.12 L231.49,212.24 L232.54,213.35 L233.61,214.45 L234.68,215.55 L235.76,216.65 L236.85,217.74 L237.95,218.83 L239.06,219.91 L240.18,220.99 L241.31,222.06 L242.44,223.13 L243.59,224.20 L244.74,225.26 L245.90,226.32 L247.08,227.37 L248.26,228.42 L249.45,229.47 L250.65,230.51 L251.86,231.55 L253.08,232.58 L254.31,233.61 L255.55,234.63 L256.80,235.65 L258.06,236.67 L259.33,237.68 L260.61,238.69 L261.90,239.69 L263.21,240.69 L264.52,241.68 L265.84,242.67 L267.17,243.66 L268.52,244.64 L269.87,245.62 L271.24,246.60 L272.61,247.57 L274.00,248.53 L275.40,249.50 L276.81,250.45 L278.23,251.41 L279.67,252.36 L281.11,253.31 L282.57,254.25 L284.03,255.19 L285.51,256.12 L287.01,257.05 L288.51,257.98 L290.03,258.90 L291.55,259.82 L293.09,260.73 L294.65,261.64 L296.21,262.55 L297.79,263.45 L299.38,264.35 L300.98,265.24 L302.60,266.13 L304.23,267.02 L305.87,267.90 L307.53,268.78 L309.20,269.66 L310.88,270.53 L312.58,271.40 L314.29,272.26 L316.01,273.12 L317.75,273.98 L319.50,274.83 L321.26,275.68 L323.04,276.52 L324.84,277.36 L326.65,278.20 L328.47,279.03 L330.31,279.86 L332.16,280.68 L334.03,281.51 L335.91,282.32 L337.81,283.14 L339.72,283.95 L341.65,284.75 L343.60,285.56 L345.56,286.36 L347.53,287.15 L349.52,287.94 L351.53,288.73 L353.56,289.52 L355.60,290.30 L357.65,291.07 L359.73,291.85 L361.82,292.62 L363.92,293.38 L366.05,294.14 L368.19,294.90 L370.35,295.66 L372.52,296.41 L374.72,297.16 L376.93,297.90 L379.16,298.64 L381.40,299.38 L383.67,300.11 L385.95,300.84 L388.25,301.57 L390.57,302.29 L392.91,303.01 L395.27,303.72 L397.64,304.43 L400.04,305.14 L402.45,305.85 L404.89,306.55 L407.34,307.25 L409.82,307.94 L412.31,308.63 L414.82,309.32 L417.36,310.00 L419.91,310.68 L422.49,311.36 L425.08,312.03 L427.70,312.70 L430.34,313.37 L433.00,314.03 L435.68,314.69 L438.38,315.35 L441.10,316.00 L443.85,316.65 L446.62,317.29 L449.41,317.94 L452.22,318.58 L455.06,319.21 L457.91,319.84 L460.80,320.47 L463.70,321.10 L466.63,321.72 L469.58,322.34 L472.55,322.96 L475.55,323.57 L478.58,324.18 L481.62,324.78 L484.70,325.39 L487.79,325.98 L490.92,326.58 L494.06,327.17 L497.24,327.76 L500.43,328.35 L503.66,328.93 L506.91,329.51 L510.18,330.09 L513.48,330.66 L516.81,331.23 L520.17,331.80 L523.55,332.36 L526.96,332.92 L530.40,333.48 L533.86,334.03 L537.36,334.58 L540.88,335.13 L544.43,335.67 L548.01,336.21 L551.61,336.75 L555.25,337.29 L558.91,337.82 L562.61,338.35 L566.33,338.87 L570.09,339.39 L573.87,339.91 L577.69,340.43 L581.53,340.94 L585.41,341.45 L589.32,341.96 L593.26,342.46 L597.23,342.96 L601.23,343.46 L605.27,343.96 L609.33,344.45 L613.43,344.94 L617.57,345.42 L621.73,345.91 L625.93,346.38 L630.17,346.86 L634.44,347.34 L638.74,347.81 L643.08,348.27 L647.45,348.74 L651.86,349.20" fill="none" stroke="#00ff00" stroke-width="2.7" stroke-dasharray="12.8 9.6" stroke-linecap="butt" stroke-linejoin="round"/>
<path d="M747.60,207.10 L754.40,212.40 L755.05,214.17 L755.70,215.91 L756.36,217.61 L757.03,219.28 L757.71,220.93 L758.40,222.55 L759.09,224.14 L759.79,225.71 L760.50,227.25 L761.22,228.78 L761.95,230.28 L762.69,231.76 L763.43,233.23 L764.18,234.67 L764.95,236.10 L765.72,237.52 L766.50,238.92 L767.29,240.31 L768.09,241.69 L768.90,243.05 L769.71,244.41 L770.54,245.76 L771.38,247.09 L772.22,248.42 L773.08,249.75 L773.95,251.07 L774.83,252.38 L775.71,253.69 L776.61,255.00 L777.52,256.31 L778.44,257.61 L779.37,258.92 L780.31,260.23 L781.26,261.53 L782.23,262.85 L783.20,264.16 L784.19,265.48 L785.19,266.80 L786.20,268.12 L787.22,269.45 L788.25,270.78 L789.30,272.12 L790.35,273.46 L791.43,274.80 L792.51,276.15 L793.60,277.51 L794.71,278.87 L795.84,280.24 L796.97,281.62 L798.12,283.00 L799.28,284.38 L800.46,285.78 L801.65,287.18 L802.85,288.58 L804.07,289.99 L805.30,291.41 L806.55,292.83 L807.81,294.25 L809.09,295.68 L810.38,297.11 L811.68,298.55 L813.01,299.99 L814.34,301.43 L815.70,302.87 L817.07,304.31 L818.45,305.76 L819.85,307.20 L821.27,308.65 L822.71,310.09 L824.16,311.54 L825.63,312.99 L827.11,314.43 L828.62,315.88 L830.14,317.32 L831.68,318.76 L833.24,320.20 L834.81,321.63 L836.41,323.07 L838.02,324.50 L839.65,325.92 L841.30,327.34 L842.97,328.76 L844.66,330.17 L846.38,331.58 L848.11,332.98 L849.86,334.38 L851.63,335.77 L853.42,337.16 L855.24,338.53 L857.07,339.90 L858.93,341.27 L860.81,342.62 L862.71,343.97 L864.63,345.31 L866.58,346.64 L868.55,347.96 L870.54,349.27 L872.55,350.58 L874.59,351.87 L876.66,353.16 L878.74,354.44 L880.86,355.72 L882.99,356.98 L885.15,358.24 L887.34,359.49 L889.56,360.73 L891.80,361.97 L894.06,363.19 L896.35,364.41 L898.67,365.63 L901.02,366.83 L903.40,367.84 L905.80,368.26 L908.23,368.66 L910.69,369.96 L913.18,371.97 L915.70,373.93 L918.24,375.08 L920.82,376.24 L923.43,377.38 L926.07,378.52 L928.74,379.65 L931.44,380.78 L934.17,381.90 L936.94,383.01 L939.74,384.12 L942.57,385.23 L945.43,386.32 L948.33,387.41 L951.26,388.50 L954.23,389.58 L957.23,390.65 L960.27,391.72 L963.34,392.78 L966.45,393.84 L969.59,394.90 L972.78,395.94 L976.00,396.99 L979.26,398.03 L982.55,399.06 L985.89,400.09 L989.26,401.11 L992.68,402.13 L996.13,403.14 L999.63,404.15 L1003.16,405.16 L1006.74,406.16 L1010.36,407.15 L1014.03,408.14 L1017.73,409.12 L1021.48,410.10 L1025.28,411.07 L1029.12,412.03 L1033.00,412.99 L1036.93,413.93 L1040.91,414.88 L1044.93,415.81 L1049.00,416.74 L1053.12,417.66 L1057.29,418.57 L1061.50,419.48 L1065.77,420.37 L1070.08,421.26 L1074.45,422.14 L1078.87,423.01 L1083.34,423.87 L1087.86,424.72 L1092.44,425.56 L1097.07,426.39 L1101.76,427.21 L1106.50,428.02 L1111.29,428.83 L1116.14,429.62 L1121.05,430.40 L1126.02,431.17 L1131.05,431.93 L1136.13,432.67 L1141.28,433.41 L1146.48,434.13 L1151.75,434.85 L1157.08,435.55 L1162.47,436.23 L1167.93,436.91 L1173.45,437.57 L1179.03,438.22 L1184.68,438.86 L1190.40,439.48 L1196.19,440.09 L1202.04,440.69 L1207.96,441.27 L1213.95,441.84 L1220.02,442.39 L1226.15,442.93 L1232.36,443.46 L1238.63,443.97 L1244.99,444.46 L1251.42,444.94 L1257.92,445.40 L1264.50,445.85" fill="none" stroke="#0000ff" stroke-width="2.35" stroke-linecap="round" stroke-linejoin="round"/>
<path d="M747.60,202.20 L756.40,209.70 L757.48,213.27 L758.13,214.98 L758.78,216.66 L759.44,218.31 L760.12,219.92 L760.80,221.51 L761.49,223.08 L762.19,224.62 L762.90,226.14 L763.62,227.63 L764.34,229.11 L765.07,230.56 L765.81,232.00 L766.56,233.42 L767.32,234.82 L768.12,236.20 L768.93,237.55 L769.75,238.90 L770.58,240.23 L771.41,241.55 L772.26,242.86 L773.12,244.16 L773.98,245.45 L774.86,246.73 L775.75,248.01 L776.65,249.28 L777.56,250.55 L778.45,251.82 L779.36,253.10 L780.27,254.38 L781.20,255.66 L782.14,256.94 L783.09,258.22 L784.05,259.50 L785.02,260.78 L786.01,262.07 L787.00,263.36 L788.01,264.65 L789.03,265.95 L790.06,267.25 L791.10,268.56 L792.16,269.86 L793.23,271.18 L794.31,272.50 L795.41,273.82 L796.51,275.15 L797.64,276.48 L798.77,277.83 L799.92,279.17 L801.08,280.53 L802.25,281.89 L803.43,283.26 L804.61,284.65 L805.81,286.04 L807.01,287.44 L808.23,288.85 L809.47,290.26 L810.72,291.67 L811.98,293.08 L813.26,294.50 L814.55,295.92 L815.86,297.35 L817.18,298.77 L818.52,300.20 L819.87,301.63 L821.24,303.06 L822.63,304.49 L824.03,305.93 L825.45,307.36 L826.88,308.79 L828.33,310.22 L829.80,311.65 L831.29,313.08 L832.79,314.50 L834.31,315.93 L835.85,317.35 L837.40,318.77 L838.98,320.19 L840.57,321.60 L842.18,323.01 L843.81,324.41 L845.46,325.81 L847.12,327.21 L848.81,328.60 L850.52,329.99 L852.24,331.37 L853.99,332.74 L855.76,334.11 L857.54,335.47 L859.35,336.82 L861.18,338.17 L863.03,339.50 L864.91,340.83 L866.80,342.15 L868.72,343.47 L870.66,344.77 L872.63,346.07 L874.62,347.36 L876.63,348.64 L878.66,349.92 L880.72,351.19 L882.81,352.44 L884.92,353.70 L887.06,354.94 L889.22,356.18 L891.40,357.41 L893.60,358.67 L895.81,359.94 L898.05,361.20 L900.32,362.45 L902.51,363.65 L904.38,364.53 L906.36,364.91 L909.32,365.51 L912.51,367.25 L915.17,369.46 L917.34,371.25 L919.51,372.28 L922.04,373.49 L924.61,374.67 L927.21,375.84 L929.85,377.01 L932.52,378.17 L935.22,379.33 L937.95,380.48 L940.71,381.63 L943.51,382.77 L946.35,383.91 L949.21,385.04 L952.12,386.15 L955.07,387.24 L958.06,388.32 L961.08,389.39 L964.14,390.46 L967.23,391.52 L970.36,392.58 L973.53,393.63 L976.74,394.68 L979.98,395.73 L983.27,396.76 L986.59,397.80 L989.95,398.83 L993.35,399.86 L996.79,400.88 L1000.28,401.89 L1003.80,402.91 L1007.36,403.91 L1010.97,404.91 L1014.62,405.91 L1018.32,406.90 L1022.05,407.88 L1025.84,408.86 L1029.66,409.83 L1033.53,410.80 L1037.45,411.76 L1041.42,412.71 L1045.43,413.65 L1049.49,414.59 L1053.59,415.52 L1057.75,416.43 L1061.96,417.34 L1066.21,418.24 L1070.52,419.13 L1074.87,420.01 L1079.28,420.89 L1083.74,421.75 L1088.26,422.61 L1092.82,423.45 L1097.44,424.29 L1102.12,425.12 L1106.85,425.93 L1111.64,426.74 L1116.48,427.54 L1121.38,428.32 L1126.34,429.10 L1131.35,429.86 L1136.43,430.62 L1141.57,431.36 L1146.76,432.09 L1152.02,432.81 L1157.34,433.51 L1162.73,434.21 L1168.17,434.89 L1173.69,435.56 L1179.26,436.21 L1184.91,436.86 L1190.62,437.49 L1196.39,438.11 L1202.24,438.71 L1208.15,439.30 L1214.14,439.88 L1220.19,440.44 L1226.32,440.98 L1232.52,441.52 L1238.79,442.04 L1245.13,442.54 L1251.56,443.03 L1258.05,443.50 L1264.63,443.96" fill="none" stroke="#0000ff" stroke-width="2.5" stroke-dasharray="12.8 9.6" stroke-linecap="butt" stroke-linejoin="round"/>
<path d="M747.50,124.90 L753.80,130.40 L754.44,132.07 L755.09,133.71 L755.75,135.31 L756.42,136.88 L757.09,138.41 L757.77,139.92 L758.46,141.40 L759.16,142.85 L759.87,144.27 L760.58,145.66 L761.30,147.04 L762.04,148.39 L762.78,149.72 L763.52,151.02 L764.28,152.31 L765.05,153.59 L765.83,154.84 L766.61,156.08 L767.41,157.31 L768.21,158.53 L769.02,159.74 L769.85,160.94 L770.68,162.13 L771.52,163.32 L772.37,164.51 L773.24,165.70 L774.11,166.90 L774.99,168.10 L775.89,169.31 L776.79,170.54 L777.70,171.78 L778.63,173.03 L779.57,174.31 L780.51,175.61 L781.47,176.93 L782.44,178.28 L783.43,179.67 L784.42,181.08 L785.42,182.53 L786.44,184.01 L787.47,185.51 L788.51,187.03 L789.57,188.57 L790.63,190.11 L791.71,191.67 L792.80,193.23 L793.91,194.79 L795.02,196.34 L796.15,197.88 L797.30,199.41 L798.46,200.93 L799.63,202.43 L800.81,203.91 L802.01,205.37 L803.23,206.83 L804.45,208.27 L805.70,209.71 L806.95,211.14 L808.22,212.57 L809.51,214.00 L810.81,215.43 L812.13,216.86 L813.46,218.30 L814.81,219.75 L816.18,221.20 L817.56,222.67 L818.96,224.16 L820.37,225.66 L821.80,227.17 L823.25,228.70 L824.71,230.25 L826.20,231.80 L827.70,233.37 L829.21,234.95 L830.75,236.53 L832.30,238.12 L833.88,239.71 L835.47,241.31 L837.08,242.91 L838.70,244.51 L840.35,246.12 L842.02,247.72 L843.71,249.31 L845.41,250.91 L847.14,252.49 L848.89,254.08 L850.66,255.65 L852.45,257.21 L854.26,258.77 L856.09,260.32 L857.94,261.87 L859.82,263.40 L861.71,264.93 L863.63,266.45 L865.58,267.97 L867.54,269.47 L869.53,270.98 L871.55,272.47 L873.58,273.96 L875.64,275.44 L877.73,276.91 L879.84,278.38 L881.97,279.84 L884.13,281.30 L886.32,282.75 L888.53,284.19 L890.77,285.63 L893.03,287.06 L895.32,288.49 L897.64,289.91 L899.98,291.32 L902.36,292.73 L904.76,293.50 L907.19,294.12 L909.65,294.95 L912.13,297.18 L914.65,299.41 L917.20,301.08 L919.78,302.45 L922.38,303.82 L925.02,305.18 L927.69,306.53 L930.39,307.88 L933.13,309.23 L935.89,310.56 L938.69,311.90 L941.52,313.22 L944.38,314.54 L947.28,315.86 L950.22,317.17 L953.18,318.47 L956.19,319.77 L959.23,321.06 L962.30,322.34 L965.41,323.62 L968.56,324.89 L971.74,326.16 L974.97,327.41 L978.23,328.67 L981.53,329.91 L984.86,331.15 L988.24,332.39 L991.66,333.61 L995.12,334.83 L998.62,336.05 L1002.16,337.25 L1005.74,338.45 L1009.37,339.65 L1013.03,340.84 L1016.75,342.01 L1020.50,343.19 L1024.30,344.35 L1028.15,345.51 L1032.04,346.67 L1035.97,347.81 L1039.96,348.95 L1043.99,350.08 L1048.06,351.20 L1052.19,352.32 L1056.36,353.43 L1060.59,354.53 L1064.86,355.62 L1069.19,356.71 L1073.56,357.79 L1077.99,358.86 L1082.47,359.93 L1087.00,360.98 L1091.59,362.03 L1096.23,363.08 L1100.93,364.11 L1105.68,365.14 L1110.49,366.16 L1115.35,367.17 L1120.28,368.17 L1125.26,369.16 L1130.30,370.15 L1135.40,371.13 L1140.56,372.10 L1145.78,373.07 L1151.06,374.02 L1156.41,374.97 L1161.81,375.91 L1167.29,376.84 L1172.82,377.76 L1178.43,378.67 L1184.10,379.58 L1189.83,380.47 L1195.64,381.36 L1201.51,382.24 L1207.45,383.11 L1213.46,383.98 L1219.55,384.83 L1225.70,385.68 L1231.93,386.51 L1238.24,387.34 L1244.61,388.16 L1251.06,388.97 L1257.59,389.77 L1264.20,390.57" fill="none" stroke="#ff0000" stroke-width="2.5" stroke-linecap="round" stroke-linejoin="round"/>
<path d="M747.50,124.49 L754.20,130.02 L754.95,131.87 L755.60,133.50 L756.26,135.09 L756.92,136.66 L757.59,138.19 L758.27,139.69 L758.96,141.16 L759.65,142.60 L760.36,144.02 L761.07,145.41 L761.79,146.78 L762.52,148.12 L763.25,149.44 L764.00,150.75 L764.76,152.03 L765.52,153.30 L766.29,154.55 L767.07,155.79 L767.87,157.01 L768.67,158.23 L769.48,159.43 L770.30,160.63 L771.13,161.82 L771.97,163.00 L772.82,164.19 L773.68,165.38 L774.55,166.57 L775.43,167.78 L776.33,168.99 L777.23,170.21 L778.15,171.45 L779.07,172.71 L780.01,173.98 L780.96,175.28 L781.92,176.61 L782.89,177.97 L783.87,179.35 L784.87,180.77 L785.88,182.22 L786.89,183.70 L787.92,185.20 L788.97,186.72 L790.02,188.25 L791.08,189.80 L792.16,191.35 L793.25,192.91 L794.35,194.47 L795.47,196.02 L796.60,197.56 L797.74,199.08 L798.89,200.59 L800.06,202.08 L801.24,203.56 L802.44,205.02 L803.65,206.47 L804.87,207.91 L806.11,209.35 L807.36,210.78 L808.63,212.20 L809.92,213.63 L811.22,215.06 L812.54,216.49 L813.87,217.92 L815.22,219.37 L816.58,220.83 L817.96,222.30 L819.36,223.78 L820.77,225.28 L822.20,226.80 L823.65,228.33 L825.11,229.87 L826.59,231.42 L828.09,232.99 L829.61,234.56 L831.14,236.14 L832.70,237.73 L834.27,239.33 L835.85,240.92 L837.46,242.52 L839.09,244.12 L840.73,245.72 L842.40,247.32 L844.08,248.91 L845.79,250.50 L847.51,252.09 L849.26,253.67 L851.02,255.24 L852.81,256.80 L854.61,258.35 L856.44,259.90 L858.29,261.44 L860.16,262.98 L862.06,264.50 L863.97,266.02 L865.91,267.53 L867.88,269.04 L869.86,270.53 L871.87,272.03 L873.90,273.51 L875.96,274.99 L878.04,276.46 L880.15,277.93 L882.28,279.39 L884.44,280.84 L886.62,282.29 L888.83,283.73 L891.06,285.16 L893.32,286.59 L895.61,288.02 L897.93,289.44 L900.27,290.85 L902.59,292.23 L904.91,292.97 L907.34,293.59 L909.94,294.48 L912.50,296.77 L914.99,298.98 L917.48,300.61 L920.03,301.96 L922.64,303.33 L925.27,304.69 L927.94,306.04 L930.64,307.39 L933.37,308.73 L936.13,310.07 L938.92,311.40 L941.75,312.72 L944.61,314.04 L947.51,315.36 L950.44,316.66 L953.40,317.97 L956.40,319.26 L959.44,320.55 L962.51,321.83 L965.62,323.11 L968.76,324.38 L971.95,325.64 L975.17,326.90 L978.42,328.15 L981.72,329.40 L985.05,330.64 L988.43,331.87 L991.85,333.10 L995.30,334.32 L998.80,335.53 L1002.34,336.73 L1005.92,337.93 L1009.54,339.13 L1013.20,340.31 L1016.91,341.49 L1020.66,342.66 L1024.46,343.83 L1028.30,344.99 L1032.19,346.14 L1036.12,347.28 L1040.11,348.42 L1044.13,349.55 L1048.21,350.67 L1052.33,351.79 L1056.50,352.90 L1060.73,354.00 L1065.00,355.09 L1069.32,356.18 L1073.69,357.26 L1078.12,358.33 L1082.60,359.39 L1087.13,360.45 L1091.71,361.50 L1096.35,362.54 L1101.05,363.57 L1105.80,364.60 L1110.60,365.62 L1115.47,366.63 L1120.39,367.63 L1125.36,368.62 L1130.40,369.61 L1135.50,370.59 L1140.66,371.56 L1145.88,372.52 L1151.16,373.48 L1156.50,374.43 L1161.91,375.36 L1167.38,376.29 L1172.91,377.22 L1178.51,378.13 L1184.18,379.03 L1189.92,379.93 L1195.72,380.82 L1201.59,381.70 L1207.53,382.57 L1213.54,383.43 L1219.62,384.29 L1225.78,385.13 L1232.00,385.97 L1238.31,386.80 L1244.68,387.62 L1251.13,388.43 L1257.66,389.23 L1264.27,390.02" fill="none" stroke="#ff0000" stroke-width="2.7" stroke-dasharray="12.8 9.6" stroke-linecap="butt" stroke-linejoin="round"/>
<path d="M747.50,104.40 L753.90,110.10 L754.54,111.48 L755.19,112.85 L755.85,114.22 L756.52,115.59 L757.19,116.94 L757.88,118.30 L758.57,119.65 L759.27,121.00 L759.97,122.35 L760.69,123.69 L761.41,125.03 L762.14,126.37 L762.88,127.71 L763.63,129.05 L764.39,130.39 L765.16,131.72 L765.94,133.06 L766.72,134.40 L767.52,135.73 L768.32,137.07 L769.14,138.41 L769.96,139.75 L770.79,141.09 L771.64,142.44 L772.49,143.78 L773.35,145.13 L774.23,146.48 L775.11,147.83 L776.01,149.18 L776.91,150.54 L777.83,151.90 L778.75,153.27 L779.69,154.64 L780.64,156.01 L781.60,157.39 L782.57,158.77 L783.55,160.16 L784.55,161.55 L785.55,162.94 L786.57,164.34 L787.60,165.75 L788.64,167.17 L789.70,168.58 L790.76,170.01 L791.84,171.44 L792.93,172.88 L794.04,174.33 L795.16,175.78 L796.29,177.24 L797.43,178.71 L798.59,180.18 L799.76,181.67 L800.95,183.16 L802.15,184.65 L803.36,186.16 L804.59,187.67 L805.84,189.18 L807.09,190.70 L808.37,192.23 L809.65,193.76 L810.96,195.30 L812.27,196.84 L813.61,198.38 L814.96,199.93 L816.32,201.49 L817.71,203.04 L819.10,204.60 L820.52,206.17 L821.95,207.73 L823.40,209.30 L824.86,210.87 L826.35,212.44 L827.85,214.02 L829.36,215.59 L830.90,217.17 L832.45,218.75 L834.03,220.33 L835.62,221.90 L837.23,223.48 L838.86,225.06 L840.51,226.64 L842.17,228.21 L843.86,229.79 L845.57,231.36 L847.30,232.93 L849.04,234.50 L850.81,236.07 L852.60,237.63 L854.41,239.19 L856.25,240.75 L858.10,242.30 L859.98,243.85 L861.87,245.40 L863.79,246.94 L865.74,248.47 L867.70,250.00 L869.69,251.52 L871.71,253.04 L873.74,254.54 L875.80,256.05 L877.89,257.54 L880.00,259.03 L882.13,260.51 L884.29,261.98 L886.48,263.45 L888.69,264.91 L890.93,266.37 L893.19,267.82 L895.48,269.26 L897.80,270.70 L900.15,272.13 L902.52,273.55 L904.92,274.28 L907.35,274.91 L909.81,275.86 L912.30,278.10 L914.82,280.35 L917.36,281.97 L919.94,283.36 L922.55,284.73 L925.18,286.11 L927.85,287.48 L930.55,288.84 L933.29,290.20 L936.05,291.55 L938.85,292.90 L941.68,294.24 L944.55,295.58 L947.44,296.91 L950.38,298.24 L953.34,299.56 L956.35,300.88 L959.38,302.20 L962.46,303.51 L965.57,304.82 L968.72,306.12 L971.90,307.42 L975.12,308.71 L978.38,310.00 L981.68,311.28 L985.02,312.56 L988.39,313.83 L991.81,315.10 L995.27,316.36 L998.77,317.61 L1002.31,318.86 L1005.89,320.11 L1009.51,321.34 L1013.18,322.57 L1016.89,323.80 L1020.64,325.01 L1024.44,326.22 L1028.29,327.43 L1032.17,328.62 L1036.11,329.81 L1040.09,330.99 L1044.12,332.17 L1048.20,333.33 L1052.32,334.49 L1056.49,335.64 L1060.72,336.78 L1064.99,337.91 L1069.31,339.04 L1073.68,340.15 L1078.11,341.26 L1082.59,342.36 L1087.12,343.44 L1091.70,344.52 L1096.34,345.59 L1101.04,346.66 L1105.79,347.71 L1110.59,348.75 L1115.45,349.79 L1120.37,350.82 L1125.35,351.84 L1130.39,352.85 L1135.49,353.85 L1140.64,354.85 L1145.86,355.83 L1151.14,356.81 L1156.48,357.79 L1161.89,358.75 L1167.36,359.71 L1172.89,360.66 L1178.49,361.60 L1184.15,362.53 L1189.89,363.46 L1195.69,364.38 L1201.56,365.30 L1207.49,366.20 L1213.50,367.10 L1219.58,368.00 L1225.73,368.89 L1231.96,369.77 L1238.25,370.64 L1244.63,371.51 L1251.07,372.37 L1257.60,373.23 L1264.20,374.08" fill="none" stroke="#00ff00" stroke-width="2.5" stroke-linecap="round" stroke-linejoin="round"/>
<path d="M747.50,103.99 L754.29,109.71 L755.04,111.25 L755.69,112.62 L756.35,113.98 L757.01,115.34 L757.69,116.70 L758.37,118.05 L759.06,119.40 L759.75,120.75 L760.46,122.09 L761.17,123.43 L761.89,124.77 L762.63,126.11 L763.37,127.44 L764.11,128.78 L764.87,130.11 L765.64,131.45 L766.41,132.78 L767.20,134.12 L767.99,135.45 L768.79,136.79 L769.61,138.12 L770.43,139.46 L771.26,140.80 L772.10,142.14 L772.95,143.48 L773.82,144.83 L774.69,146.18 L775.57,147.53 L776.46,148.88 L777.37,150.24 L778.28,151.60 L779.21,152.96 L780.14,154.33 L781.09,155.70 L782.05,157.07 L783.02,158.45 L784.00,159.84 L784.99,161.23 L786.00,162.62 L787.01,164.02 L788.04,165.43 L789.08,166.84 L790.14,168.26 L791.20,169.68 L792.28,171.11 L793.37,172.55 L794.48,173.99 L795.59,175.44 L796.72,176.90 L797.87,178.37 L799.02,179.84 L800.19,181.32 L801.38,182.81 L802.58,184.31 L803.79,185.81 L805.02,187.32 L806.26,188.83 L807.52,190.35 L808.79,191.88 L810.07,193.41 L811.37,194.94 L812.69,196.48 L814.02,198.02 L815.37,199.57 L816.74,201.12 L818.12,202.68 L819.51,204.24 L820.92,205.80 L822.35,207.36 L823.80,208.93 L825.26,210.50 L826.74,212.07 L828.24,213.64 L829.76,215.21 L831.29,216.79 L832.85,218.36 L834.42,219.94 L836.00,221.51 L837.61,223.09 L839.24,224.66 L840.88,226.24 L842.55,227.81 L844.23,229.39 L845.94,230.96 L847.66,232.53 L849.41,234.09 L851.18,235.66 L852.96,237.22 L854.77,238.78 L856.60,240.33 L858.45,241.88 L860.32,243.43 L862.22,244.97 L864.14,246.51 L866.08,248.04 L868.04,249.56 L870.03,251.08 L872.04,252.59 L874.07,254.10 L876.13,255.60 L878.21,257.09 L880.31,258.58 L882.45,260.06 L884.60,261.53 L886.78,263.00 L888.99,264.45 L891.23,265.91 L893.49,267.35 L895.78,268.79 L898.09,270.23 L900.43,271.66 L902.75,273.05 L905.07,273.75 L907.52,274.39 L910.11,275.40 L912.67,277.69 L915.15,279.91 L917.64,281.50 L920.20,282.87 L922.80,284.25 L925.44,285.62 L928.10,286.99 L930.80,288.35 L933.53,289.70 L936.29,291.05 L939.09,292.40 L941.92,293.74 L944.78,295.08 L947.67,296.41 L950.60,297.74 L953.57,299.06 L956.57,300.38 L959.60,301.69 L962.67,303.00 L965.78,304.31 L968.92,305.61 L972.11,306.91 L975.33,308.20 L978.58,309.49 L981.88,310.77 L985.21,312.05 L988.59,313.32 L992.00,314.58 L995.46,315.84 L998.95,317.10 L1002.49,318.34 L1006.07,319.59 L1009.69,320.82 L1013.35,322.05 L1017.06,323.27 L1020.81,324.49 L1024.61,325.70 L1028.45,326.90 L1032.33,328.10 L1036.27,329.28 L1040.25,330.46 L1044.27,331.64 L1048.35,332.80 L1052.47,333.96 L1056.64,335.11 L1060.86,336.25 L1065.13,337.38 L1069.45,338.50 L1073.82,339.62 L1078.24,340.72 L1082.72,341.82 L1087.25,342.91 L1091.83,343.99 L1096.47,345.06 L1101.16,346.12 L1105.90,347.17 L1110.71,348.22 L1115.57,349.25 L1120.49,350.28 L1125.46,351.30 L1130.50,352.31 L1135.59,353.31 L1140.75,354.31 L1145.96,355.29 L1151.24,356.27 L1156.58,357.24 L1161.98,358.21 L1167.45,359.16 L1172.98,360.11 L1178.58,361.06 L1184.24,361.99 L1189.97,362.92 L1195.77,363.84 L1201.64,364.75 L1207.58,365.66 L1213.58,366.56 L1219.66,367.45 L1225.81,368.34 L1232.03,369.22 L1238.33,370.10 L1244.70,370.97 L1251.15,371.83 L1257.67,372.69 L1264.27,373.54" fill="none" stroke="#00ff00" stroke-width="2.7" stroke-dasharray="12.8 9.6" stroke-linecap="butt" stroke-linejoin="round"/>
<rect x="800.7" y="33.4" width="468.8" height="110.9" fill="#fff" stroke="#000" stroke-width="0.7"/>
<path d="M99.25,10.46L1299.45,10.46M99.25,460.85L1299.45,460.85M99.25,10.46L99.25,460.85M699.45,10.46L699.45,460.85M1299.45,10.46L1299.45,460.85M99.25,10.46L107.75,10.46M690.95,10.46L707.95,10.46M1290.95,10.46L1299.45,10.46M99.25,55.43L103.55,55.43M695.15,55.43L703.75,55.43M1295.15,55.43L1299.45,55.43M99.25,44.10L103.55,44.10M695.15,44.10L703.75,44.10M1295.15,44.10L1299.45,44.10M99.25,36.06L103.55,36.06M695.15,36.06L703.75,36.06M1295.15,36.06L1299.45,36.06M99.25,29.83L103.55,29.83M695.15,29.83L703.75,29.83M1295.15,29.83L1299.45,29.83M99.25,24.73L103.55,24.73M695.15,24.73L703.75,24.73M1295.15,24.73L1299.45,24.73M99.25,20.43L103.55,20.43M695.15,20.43L703.75,20.43M1295.15,20.43L1299.45,20.43M99.25,16.70L103.55,16.70M695.15,16.70L703.75,16.70M1295.15,16.70L1299.45,16.70M99.25,13.40L103.55,13.40M695.15,13.40L703.75,13.40M1295.15,13.40L1299.45,13.40M99.25,74.80L107.75,74.80M690.95,74.80L707.95,74.80M1290.95,74.80L1299.45,74.80M99.25,119.77L103.55,119.77M695.15,119.77L703.75,119.77M1295.15,119.77L1299.45,119.77M99.25,108.44L103.55,108.44M695.15,108.44L703.75,108.44M1295.15,108.44L1299.45,108.44M99.25,100.41L103.55,100.41M695.15,100.41L703.75,100.41M1295.15,100.41L1299.45,100.41M99.25,94.17L103.55,94.17M695.15,94.17L703.75,94.17M1295.15,94.17L1299.45,94.17M99.25,89.08L103.55,89.08M695.15,89.08L703.75,89.08M1295.15,89.08L1299.45,89.08M99.25,84.77L103.55,84.77M695.15,84.77L703.75,84.77M1295.15,84.77L1299.45,84.77M99.25,81.04L103.55,81.04M695.15,81.04L703.75,81.04M1295.15,81.04L1299.45,81.04M99.25,77.75L103.55,77.75M695.15,77.75L703.75,77.75M1295.15,77.75L1299.45,77.75M99.25,139.14L107.75,139.14M690.95,139.14L707.95,139.14M1290.95,139.14L1299.45,139.14M99.25,184.12L103.55,184.12M695.15,184.12L703.75,184.12M1295.15,184.12L1299.45,184.12M99.25,172.79L103.55,172.79M695.15,172.79L703.75,172.79M1295.15,172.79L1299.45,172.79M99.25,164.75L103.55,164.75M695.15,164.75L703.75,164.75M1295.15,164.75L1299.45,164.75M99.25,158.51L103.55,158.51M695.15,158.51L703.75,158.51M1295.15,158.51L1299.45,158.51M99.25,153.42L103.55,153.42M695.15,153.42L703.75,153.42M1295.15,153.42L1299.45,153.42M99.25,149.11L103.55,149.11M695.15,149.11L703.75,149.11M1295.15,149.11L1299.45,149.11M99.25,145.38L103.55,145.38M695.15,145.38L703.75,145.38M1295.15,145.38L1299.45,145.38M99.25,142.09L103.55,142.09M695.15,142.09L703.75,142.09M1295.15,142.09L1299.45,142.09M99.25,203.48L107.75,203.48M690.95,203.48L707.95,203.48M1290.95,203.48L1299.45,203.48M99.25,248.46L103.55,248.46M695.15,248.46L703.75,248.46M1295.15,248.46L1299.45,248.46M99.25,237.13L103.55,237.13M695.15,237.13L703.75,237.13M1295.15,237.13L1299.45,237.13M99.25,229.09L103.55,229.09M695.15,229.09L703.75,229.09M1295.15,229.09L1299.45,229.09M99.25,222.85L103.55,222.85M695.15,222.85L703.75,222.85M1295.15,222.85L1299.45,222.85M99.25,217.76L103.55,217.76M695.15,217.76L703.75,217.76M1295.15,217.76L1299.45,217.76M99.25,213.45L103.55,213.45M695.15,213.45L703.75,213.45M1295.15,213.45L1299.45,213.45M99.25,209.72L103.55,209.72M695.15,209.72L703.75,209.72M1295.15,209.72L1299.45,209.72M99.25,206.43L103.55,206.43M695.15,206.43L703.75,206.43M1295.15,206.43L1299.45,206.43M99.25,267.83L107.75,267.83M690.95,267.83L707.95,267.83M1290.95,267.83L1299.45,267.83M99.25,312.80L103.55,312.80M695.15,312.80L703.75,312.80M1295.15,312.80L1299.45,312.80M99.25,301.47L103.55,301.47M695.15,301.47L703.75,301.47M1295.15,301.47L1299.45,301.47M99.25,293.43L103.55,293.43M695.15,293.43L703.75,293.43M1295.15,293.43L1299.45,293.43M99.25,287.19L103.55,287.19M695.15,287.19L703.75,287.19M1295.15,287.19L1299.45,287.19M99.25,282.10L103.55,282.10M695.15,282.10L703.75,282.10M1295.15,282.10L1299.45,282.10M99.25,277.79L103.55,277.79M695.15,277.79L703.75,277.79M1295.15,277.79L1299.45,277.79M99.25,274.06L103.55,274.06M695.15,274.06L703.75,274.06M1295.15,274.06L1299.45,274.06M99.25,270.77L103.55,270.77M695.15,270.77L703.75,270.77M1295.15,270.77L1299.45,270.77M99.25,332.17L107.75,332.17M690.95,332.17L707.95,332.17M1290.95,332.17L1299.45,332.17M99.25,377.14L103.55,377.14M695.15,377.14L703.75,377.14M1295.15,377.14L1299.45,377.14M99.25,365.81L103.55,365.81M695.15,365.81L703.75,365.81M1295.15,365.81L1299.45,365.81M99.25,357.77L103.55,357.77M695.15,357.77L703.75,357.77M1295.15,357.77L1299.45,357.77M99.25,351.54L103.55,351.54M695.15,351.54L703.75,351.54M1295.15,351.54L1299.45,351.54M99.25,346.44L103.55,346.44M695.15,346.44L703.75,346.44M1295.15,346.44L1299.45,346.44M99.25,342.13L103.55,342.13M695.15,342.13L703.75,342.13M1295.15,342.13L1299.45,342.13M99.25,338.40L103.55,338.40M695.15,338.40L703.75,338.40M1295.15,338.40L1299.45,338.40M99.25,335.11L103.55,335.11M695.15,335.11L703.75,335.11M1295.15,335.11L1299.45,335.11M99.25,396.51L107.75,396.51M690.95,396.51L707.95,396.51M1290.95,396.51L1299.45,396.51M99.25,441.48L103.55,441.48M695.15,441.48L703.75,441.48M1295.15,441.48L1299.45,441.48M99.25,430.15L103.55,430.15M695.15,430.15L703.75,430.15M1295.15,430.15L1299.45,430.15M99.25,422.11L103.55,422.11M695.15,422.11L703.75,422.11M1295.15,422.11L1299.45,422.11M99.25,415.88L103.55,415.88M695.15,415.88L703.75,415.88M1295.15,415.88L1299.45,415.88M99.25,410.78L103.55,410.78M695.15,410.78L703.75,410.78M1295.15,410.78L1299.45,410.78M99.25,406.48L103.55,406.48M695.15,406.48L703.75,406.48M1295.15,406.48L1299.45,406.48M99.25,402.74L103.55,402.74M695.15,402.74L703.75,402.74M1295.15,402.74L1299.45,402.74M99.25,399.45L103.55,399.45M695.15,399.45L703.75,399.45M1295.15,399.45L1299.45,399.45M99.25,460.85L107.75,460.85M690.95,460.85L707.95,460.85M1290.95,460.85L1299.45,460.85M129.26,460.85L129.26,456.55M129.26,10.46L129.26,14.76M159.27,460.85L159.27,452.35M159.27,10.46L159.27,18.96M189.28,460.85L189.28,456.55M189.28,10.46L189.28,14.76M219.29,460.85L219.29,452.35M219.29,10.46L219.29,18.96M249.30,460.85L249.30,456.55M249.30,10.46L249.30,14.76M279.31,460.85L279.31,452.35M279.31,10.46L279.31,18.96M309.32,460.85L309.32,456.55M309.32,10.46L309.32,14.76M339.33,460.85L339.33,452.35M339.33,10.46L339.33,18.96M369.34,460.85L369.34,456.55M369.34,10.46L369.34,14.76M399.35,460.85L399.35,452.35M399.35,10.46L399.35,18.96M429.36,460.85L429.36,456.55M429.36,10.46L429.36,14.76M459.37,460.85L459.37,452.35M459.37,10.46L459.37,18.96M489.38,460.85L489.38,456.55M489.38,10.46L489.38,14.76M519.39,460.85L519.39,452.35M519.39,10.46L519.39,18.96M549.40,460.85L549.40,456.55M549.40,10.46L549.40,14.76M579.41,460.85L579.41,452.35M579.41,10.46L579.41,18.96M609.42,460.85L609.42,456.55M609.42,10.46L609.42,14.76M639.43,460.85L639.43,452.35M639.43,10.46L639.43,18.96M669.44,460.85L669.44,456.55M669.44,10.46L669.44,14.76M849.45,460.85L849.45,456.55M849.45,10.46L849.45,14.76M999.45,460.85L999.45,452.35M999.45,10.46L999.45,18.96M1149.45,460.85L1149.45,456.55M1149.45,10.46L1149.45,14.76" fill="none" stroke="#000" stroke-width="0.72"/>
<text transform="translate(48.83,20.16) scale(0.8970,1)" font-size="25.0" fill="#000" stroke="#fff" stroke-width="0.389" style="font-kerning:none">10</text>
<rect x="72.10" y="6.96" width="9.10" height="0.9" fill="#000"/>
<text transform="translate(83.64,11.81) scale(0.7939,1)" font-size="16.8" fill="#000" stroke="#fff" stroke-width="0.198" style="font-kerning:none">4</text>
<text transform="translate(48.83,84.50) scale(0.8970,1)" font-size="25.0" fill="#000" stroke="#fff" stroke-width="0.389" style="font-kerning:none">10</text>
<rect x="72.10" y="71.30" width="9.10" height="0.9" fill="#000"/>
<text transform="translate(83.01,76.15) scale(0.9161,1)" font-size="16.8" fill="#000" stroke="#fff" stroke-width="0.198" style="font-kerning:none">5</text>
<text transform="translate(48.83,148.84) scale(0.8970,1)" font-size="25.0" fill="#000" stroke="#fff" stroke-width="0.389" style="font-kerning:none">10</text>
<rect x="72.10" y="135.64" width="9.10" height="0.9" fill="#000"/>
<text transform="translate(83.28,140.49) scale(0.8638,1)" font-size="16.8" fill="#000" stroke="#fff" stroke-width="0.198" style="font-kerning:none">6</text>
<text transform="translate(48.83,213.18) scale(0.8970,1)" font-size="25.0" fill="#000" stroke="#fff" stroke-width="0.389" style="font-kerning:none">10</text>
<rect x="72.10" y="199.98" width="9.10" height="0.9" fill="#000"/>
<text transform="translate(82.89,204.83) scale(0.9106,1)" font-size="16.8" fill="#000" stroke="#fff" stroke-width="0.198" style="font-kerning:none">7</text>
<text transform="translate(48.83,277.53) scale(0.8970,1)" font-size="25.0" fill="#000" stroke="#fff" stroke-width="0.389" style="font-kerning:none">10</text>
<rect x="72.10" y="264.33" width="9.10" height="0.9" fill="#000"/>
<text transform="translate(83.34,269.18) scale(0.8707,1)" font-size="16.8" fill="#000" stroke="#fff" stroke-width="0.198" style="font-kerning:none">8</text>
<text transform="translate(48.83,341.87) scale(0.8970,1)" font-size="25.0" fill="#000" stroke="#fff" stroke-width="0.389" style="font-kerning:none">10</text>
<rect x="72.10" y="328.67" width="9.10" height="0.9" fill="#000"/>
<text transform="translate(83.43,333.52) scale(0.8648,1)" font-size="16.8" fill="#000" stroke="#fff" stroke-width="0.198" style="font-kerning:none">9</text>
<text transform="translate(41.08,406.21) scale(0.9199,1)" font-size="25.0" fill="#000" stroke="#fff" stroke-width="0.389" style="font-kerning:none">10</text>
<rect x="64.90" y="393.01" width="9.10" height="0.9" fill="#000"/>
<text transform="translate(74.48,397.86) scale(0.9603,1)" font-size="16.8" fill="#000" stroke="#fff" stroke-width="0.198" style="font-kerning:none">10</text>
<text transform="translate(41.08,470.55) scale(0.9199,1)" font-size="25.0" fill="#000" stroke="#fff" stroke-width="0.389" style="font-kerning:none">10</text>
<rect x="64.90" y="457.35" width="9.10" height="0.9" fill="#000"/>
<text transform="translate(75.32,462.20) scale(0.8663,1)" font-size="16.8" fill="#000" stroke="#fff" stroke-width="0.198" style="font-kerning:none">11</text>
<text transform="translate(93.72,488.90) scale(0.9184,1)" font-size="24.5" fill="#000" stroke="#fff" stroke-width="0.375" style="font-kerning:none">0</text>
<text transform="translate(142.50,488.90) scale(0.9184,1)" font-size="24.5" fill="#000" stroke="#fff" stroke-width="0.375" style="font-kerning:none">100</text>
<text transform="translate(202.52,488.90) scale(0.9184,1)" font-size="24.5" fill="#000" stroke="#fff" stroke-width="0.375" style="font-kerning:none">200</text>
<text transform="translate(262.54,488.90) scale(0.9184,1)" font-size="24.5" fill="#000" stroke="#fff" stroke-width="0.375" style="font-kerning:none">300</text>
<text transform="translate(322.56,488.90) scale(0.9184,1)" font-size="24.5" fill="#000" stroke="#fff" stroke-width="0.375" style="font-kerning:none">400</text>
<text transform="translate(382.58,488.90) scale(0.9184,1)" font-size="24.5" fill="#000" stroke="#fff" stroke-width="0.375" style="font-kerning:none">500</text>
<text transform="translate(442.60,488.90) scale(0.9184,1)" font-size="24.5" fill="#000" stroke="#fff" stroke-width="0.375" style="font-kerning:none">600</text>
<text transform="translate(502.62,488.90) scale(0.9184,1)" font-size="24.5" fill="#000" stroke="#fff" stroke-width="0.375" style="font-kerning:none">700</text>
<text transform="translate(562.64,488.90) scale(0.9184,1)" font-size="24.5" fill="#000" stroke="#fff" stroke-width="0.375" style="font-kerning:none">800</text>
<text transform="translate(622.66,488.90) scale(0.9184,1)" font-size="24.5" fill="#000" stroke="#fff" stroke-width="0.375" style="font-kerning:none">900</text>
<text transform="translate(977.30,488.90) scale(0.9184,1)" font-size="24.5" fill="#000" stroke="#fff" stroke-width="0.375" style="font-kerning:none">1000</text>
<text transform="translate(1276.50,488.90) scale(0.9184,1)" font-size="24.5" fill="#000" stroke="#fff" stroke-width="0.375" style="font-kerning:none">2000</text>
<text transform="translate(238.87,54.80) scale(1.0122,1)" font-size="29.4" fill="#000" stroke="#fff" stroke-width="0.5" style="font-kerning:none">W</text>
<text transform="translate(266.84,54.80) scale(0.8963,1)" font-size="29.4" fill="#000" stroke="#fff" stroke-width="0.5" style="font-kerning:none">M</text>
<text transform="translate(290.25,54.80) scale(0.8539,1)" font-size="29.4" fill="#000" stroke="#fff" stroke-width="0.5" style="font-kerning:none">A</text>
<text transform="translate(308.79,54.80) scale(1.1866,1)" font-size="29.4" fill="#000" stroke="#fff" stroke-width="0.5" style="font-kerning:none">P</text>
<rect x="328.30" y="48.15" width="6.90" height="1.3" fill="#000"/>
<text transform="translate(336.56,54.80) scale(0.9014,1)" font-size="29.6" fill="#000" stroke="#fff" stroke-width="0.5" style="font-kerning:none">allowed</text>
<text transform="translate(429.16,54.80) scale(1.0228,1)" font-size="29.6" fill="#000" stroke="#fff" stroke-width="0.5" style="font-kerning:none">strip</text>
<text transform="translate(282.34,161.50) scale(0.9138,1)" font-size="25.6" fill="#000" stroke="#fff" stroke-width="0.404" style="font-kerning:none">CDMS</text>
<text transform="translate(443.49,209.30) scale(0.9125,1)" font-size="25.4" fill="#000" stroke="#fff" stroke-width="0.399" style="font-kerning:none">XENON10</text>
<text transform="translate(131.20,431.10) scale(1.0588,1)" font-size="29.2" fill="#000" stroke="#fff" stroke-width="0.5" style="font-kerning:none">tan</text>
<text transform="translate(175.12,430.20) scale(1.1632,1)" font-size="27.5" fill="#000" stroke="#fff" stroke-width="0.457" style="font-style:italic;font-kerning:none">β</text>
<rect x="200.90" y="420.08" width="17.90" height="1.05" fill="#000"/>
<rect x="200.90" y="425.98" width="17.90" height="1.05" fill="#000"/>
<text transform="translate(228.04,431.10) scale(0.9467,1)" font-size="28.4" fill="#000" stroke="#fff" stroke-width="0.483" style="font-kerning:none">10</text>
<text transform="translate(731.20,431.10) scale(1.0588,1)" font-size="29.2" fill="#000" stroke="#fff" stroke-width="0.5" style="font-kerning:none">tan</text>
<text transform="translate(775.12,430.20) scale(1.1632,1)" font-size="27.5" fill="#000" stroke="#fff" stroke-width="0.457" style="font-style:italic;font-kerning:none">β</text>
<rect x="800.90" y="420.08" width="17.90" height="1.05" fill="#000"/>
<rect x="800.90" y="425.98" width="17.90" height="1.05" fill="#000"/>
<text transform="translate(828.04,431.10) scale(0.9467,1)" font-size="28.4" fill="#000" stroke="#fff" stroke-width="0.483" style="font-kerning:none">50</text>
<text transform="translate(330.38,518.70) scale(1.3268,1)" font-size="27.5" fill="#000" stroke="#fff" stroke-width="0.457" style="font-style:italic;font-kerning:none">m</text>
<text transform="translate(356.35,524.20) scale(0.8675,1)" font-size="20.3" fill="#000" stroke="#fff" stroke-width="0.273" style="font-kerning:none">1</text>
<path d="M367.0,529.3 L374.3,509.3" stroke="#000" stroke-width="0.95" fill="none"/>
<text transform="translate(375.69,524.20) scale(1.0199,1)" font-size="20.3" fill="#000" stroke="#fff" stroke-width="0.273" style="font-kerning:none">2</text>
<text transform="translate(394.76,518.70) scale(0.9717,1)" font-size="29.0" fill="#000" stroke="#fff" stroke-width="0.5" style="font-kerning:none">(GeV)</text>
<text transform="translate(930.38,518.70) scale(1.3268,1)" font-size="27.5" fill="#000" stroke="#fff" stroke-width="0.457" style="font-style:italic;font-kerning:none">m</text>
<text transform="translate(956.35,524.20) scale(0.8675,1)" font-size="20.3" fill="#000" stroke="#fff" stroke-width="0.273" style="font-kerning:none">1</text>
<path d="M967.0,529.3 L974.3,509.3" stroke="#000" stroke-width="0.95" fill="none"/>
<text transform="translate(975.69,524.20) scale(1.0199,1)" font-size="20.3" fill="#000" stroke="#fff" stroke-width="0.273" style="font-kerning:none">2</text>
<text transform="translate(994.76,518.70) scale(0.9717,1)" font-size="29.0" fill="#000" stroke="#fff" stroke-width="0.5" style="font-kerning:none">(GeV)</text>
<g transform="translate(24.2,304.5) rotate(-90)">
<text transform="translate(-0.87,0.00) scale(1.1264,1)" font-size="26.0" fill="#000" stroke="#fff" stroke-width="0.415" style="font-style:italic;font-kerning:none">σ</text>
<g transform="translate(15.40,-5.70) scale(0.8060,0.8188)" fill="none" stroke="#000" stroke-linecap="round" ><path d="M0.3,15.8 L13.1,0.4" stroke-width="0.75"/><path d="M0.5,2.6 C0.9,1.0 2.5,0.1 3.7,1.1 C5.2,2.5 6.6,8.6 8.3,12.6 C9.6,15.6 11.8,16.2 12.9,14.0" stroke-width="1.1"/><path d="M4.3,2.2 C5.6,5 6.8,9.5 8.2,12.4" stroke-width="1.6"/></g>
<text transform="translate(28.00,3.60) scale(0.8232,1)" font-size="21.2" fill="#000" stroke="#fff" stroke-width="0.294" style="font-kerning:none">N</text>
<text transform="translate(42.79,3.60) scale(0.7602,1)" font-size="21.2" fill="#000" stroke="#fff" stroke-width="0.294" style="font-kerning:none">,</text>
<text transform="translate(46.83,3.60) scale(0.9992,1)" font-size="21.2" fill="#000" stroke="#fff" stroke-width="0.294" style="font-kerning:none">S</text>
<text transform="translate(58.34,3.60) scale(0.9913,1)" font-size="21.2" fill="#000" stroke="#fff" stroke-width="0.294" style="font-kerning:none">I</text>
<text transform="translate(75.74,0.00) scale(0.9624,1)" font-size="29.8" fill="#000" stroke="#fff" stroke-width="0.5" style="font-kerning:none">(pbn)</text>
</g>
<path d="M816.6,59.45L864.6,59.45" stroke="#0000ff" stroke-width="2.85" stroke-linecap="round" fill="none"/>
<path d="M1163.5,59.45L1211.8,59.45" stroke="#0000ff" stroke-width="2.85" stroke-linecap="round" fill="none" stroke-dasharray="9.5 9.9"/>
<g transform="translate(873.05,55.10) scale(1.0037,0.9938)" fill="none" stroke="#0000ff" stroke-linecap="round" ><path d="M0.3,15.8 L13.1,0.4" stroke-width="0.75"/><path d="M0.5,2.6 C0.9,1.0 2.5,0.1 3.7,1.1 C5.2,2.5 6.6,8.6 8.3,12.6 C9.6,15.6 11.8,16.2 12.9,14.0" stroke-width="1.1"/><path d="M4.3,2.2 C5.6,5 6.8,9.5 8.2,12.4" stroke-width="1.6"/></g>
<rect x="887.30" y="59.90" width="5.90" height="1.0" fill="#0000ff"/>
<text transform="translate(894.60,65.60) scale(1.0756,1)" font-size="23.2" fill="#0000ff" stroke="#fff" stroke-width="0.342" style="font-kerning:none">p</text>
<g transform="translate(1220.00,52.00) scale(1.0373,1.0000)" fill="none" stroke="#0000ff" stroke-linecap="round" ><path d="M0.3,15.8 L13.1,0.4" stroke-width="0.75"/><path d="M0.5,2.6 C0.9,1.0 2.5,0.1 3.7,1.1 C5.2,2.5 6.6,8.6 8.3,12.6 C9.6,15.6 11.8,16.2 12.9,14.0" stroke-width="1.1"/><path d="M4.3,2.2 C5.6,5 6.8,9.5 8.2,12.4" stroke-width="1.6"/></g>
<rect x="1234.20" y="57.00" width="5.60" height="1.0" fill="#0000ff"/>
<text transform="translate(1241.35,62.90) scale(1.0358,1)" font-size="23.2" fill="#0000ff" stroke="#fff" stroke-width="0.342" style="font-kerning:none">n</text>
<text transform="translate(956.37,65.60) scale(1.1799,1)" font-size="24.6" fill="#0000ff" stroke="#fff" stroke-width="0.378" style="font-kerning:none">Σ</text>
<text transform="translate(972.91,69.00) scale(1.0755,1)" font-size="15.6" fill="#0000ff" stroke="#fff" stroke-width="0.174" style="font-style:italic;font-kerning:none">π</text>
<text transform="translate(982.87,69.00) scale(0.9562,1)" font-size="15.6" fill="#0000ff" stroke="#fff" stroke-width="0.174" style="font-kerning:none">N</text>
<rect x="1003.00" y="57.00" width="15.70" height="1.0" fill="#0000ff"/>
<rect x="1003.00" y="61.40" width="15.70" height="1.0" fill="#0000ff"/>
<text transform="translate(1026.32,65.70) scale(0.9204,1)" font-size="24.5" fill="#0000ff" stroke="#fff" stroke-width="0.375" style="font-kerning:none">36</text>
<text transform="translate(1056.76,65.60) scale(0.8964,1)" font-size="24.8" fill="#0000ff" stroke="#fff" stroke-width="0.383" style="font-kerning:none">MeV</text>
<path d="M816.6,88.75L864.6,88.75" stroke="#ff0000" stroke-width="2.85" stroke-linecap="round" fill="none"/>
<path d="M1163.5,88.75L1211.8,88.75" stroke="#ff0000" stroke-width="2.85" stroke-linecap="round" fill="none" stroke-dasharray="9.5 9.9"/>
<g transform="translate(873.05,84.40) scale(1.0037,0.9938)" fill="none" stroke="#ff0000" stroke-linecap="round" ><path d="M0.3,15.8 L13.1,0.4" stroke-width="0.75"/><path d="M0.5,2.6 C0.9,1.0 2.5,0.1 3.7,1.1 C5.2,2.5 6.6,8.6 8.3,12.6 C9.6,15.6 11.8,16.2 12.9,14.0" stroke-width="1.1"/><path d="M4.3,2.2 C5.6,5 6.8,9.5 8.2,12.4" stroke-width="1.6"/></g>
<rect x="887.30" y="89.20" width="5.90" height="1.0" fill="#ff0000"/>
<text transform="translate(894.60,94.90) scale(1.0756,1)" font-size="23.2" fill="#ff0000" stroke="#fff" stroke-width="0.342" style="font-kerning:none">p</text>
<g transform="translate(1220.00,81.30) scale(1.0373,1.0000)" fill="none" stroke="#ff0000" stroke-linecap="round" ><path d="M0.3,15.8 L13.1,0.4" stroke-width="0.75"/><path d="M0.5,2.6 C0.9,1.0 2.5,0.1 3.7,1.1 C5.2,2.5 6.6,8.6 8.3,12.6 C9.6,15.6 11.8,16.2 12.9,14.0" stroke-width="1.1"/><path d="M4.3,2.2 C5.6,5 6.8,9.5 8.2,12.4" stroke-width="1.6"/></g>
<rect x="1234.20" y="86.30" width="5.60" height="1.0" fill="#ff0000"/>
<text transform="translate(1241.35,92.20) scale(1.0358,1)" font-size="23.2" fill="#ff0000" stroke="#fff" stroke-width="0.342" style="font-kerning:none">n</text>
<text transform="translate(956.37,94.90) scale(1.1799,1)" font-size="24.6" fill="#ff0000" stroke="#fff" stroke-width="0.378" style="font-kerning:none">Σ</text>
<text transform="translate(972.91,98.30) scale(1.0755,1)" font-size="15.6" fill="#ff0000" stroke="#fff" stroke-width="0.174" style="font-style:italic;font-kerning:none">π</text>
<text transform="translate(982.87,98.30) scale(0.9562,1)" font-size="15.6" fill="#ff0000" stroke="#fff" stroke-width="0.174" style="font-kerning:none">N</text>
<rect x="1003.00" y="86.30" width="15.70" height="1.0" fill="#ff0000"/>
<rect x="1003.00" y="90.70" width="15.70" height="1.0" fill="#ff0000"/>
<text transform="translate(1026.45,95.00) scale(0.9018,1)" font-size="24.5" fill="#ff0000" stroke="#fff" stroke-width="0.375" style="font-kerning:none">64</text>
<text transform="translate(1056.76,94.90) scale(0.8964,1)" font-size="24.8" fill="#ff0000" stroke="#fff" stroke-width="0.383" style="font-kerning:none">MeV</text>
<path d="M816.6,118.05L864.6,118.05" stroke="#00ff00" stroke-width="2.85" stroke-linecap="round" fill="none"/>
<path d="M1163.5,118.05L1211.8,118.05" stroke="#00ff00" stroke-width="2.85" stroke-linecap="round" fill="none" stroke-dasharray="9.5 9.9"/>
<g transform="translate(873.05,113.70) scale(1.0037,0.9937)" fill="none" stroke="#00ff00" stroke-linecap="round" ><path d="M0.3,15.8 L13.1,0.4" stroke-width="0.75"/><path d="M0.5,2.6 C0.9,1.0 2.5,0.1 3.7,1.1 C5.2,2.5 6.6,8.6 8.3,12.6 C9.6,15.6 11.8,16.2 12.9,14.0" stroke-width="1.1"/><path d="M4.3,2.2 C5.6,5 6.8,9.5 8.2,12.4" stroke-width="1.6"/></g>
<rect x="887.30" y="118.50" width="5.90" height="1.0" fill="#00ff00"/>
<text transform="translate(894.60,124.20) scale(1.0756,1)" font-size="23.2" fill="#00ff00" stroke="#fff" stroke-width="0.342" style="font-kerning:none">p</text>
<g transform="translate(1220.00,110.60) scale(1.0373,1.0000)" fill="none" stroke="#00ff00" stroke-linecap="round" ><path d="M0.3,15.8 L13.1,0.4" stroke-width="0.75"/><path d="M0.5,2.6 C0.9,1.0 2.5,0.1 3.7,1.1 C5.2,2.5 6.6,8.6 8.3,12.6 C9.6,15.6 11.8,16.2 12.9,14.0" stroke-width="1.1"/><path d="M4.3,2.2 C5.6,5 6.8,9.5 8.2,12.4" stroke-width="1.6"/></g>
<rect x="1234.20" y="115.60" width="5.60" height="1.0" fill="#00ff00"/>
<text transform="translate(1241.35,121.50) scale(1.0358,1)" font-size="23.2" fill="#00ff00" stroke="#fff" stroke-width="0.342" style="font-kerning:none">n</text>
<text transform="translate(956.37,124.20) scale(1.1799,1)" font-size="24.6" fill="#00ff00" stroke="#fff" stroke-width="0.378" style="font-kerning:none">Σ</text>
<text transform="translate(972.91,127.60) scale(1.0755,1)" font-size="15.6" fill="#00ff00" stroke="#fff" stroke-width="0.174" style="font-style:italic;font-kerning:none">π</text>
<text transform="translate(982.87,127.60) scale(0.9562,1)" font-size="15.6" fill="#00ff00" stroke="#fff" stroke-width="0.174" style="font-kerning:none">N</text>
<rect x="1003.00" y="115.60" width="15.70" height="1.0" fill="#00ff00"/>
<rect x="1003.00" y="120.00" width="15.70" height="1.0" fill="#00ff00"/>
<text transform="translate(1026.54,124.30) scale(0.9190,1)" font-size="24.5" fill="#00ff00" stroke="#fff" stroke-width="0.375" style="font-kerning:none">80</text>
<text transform="translate(1056.76,124.20) scale(0.8964,1)" font-size="24.8" fill="#00ff00" stroke="#fff" stroke-width="0.383" style="font-kerning:none">MeV</text>
</svg>
</body></html>
